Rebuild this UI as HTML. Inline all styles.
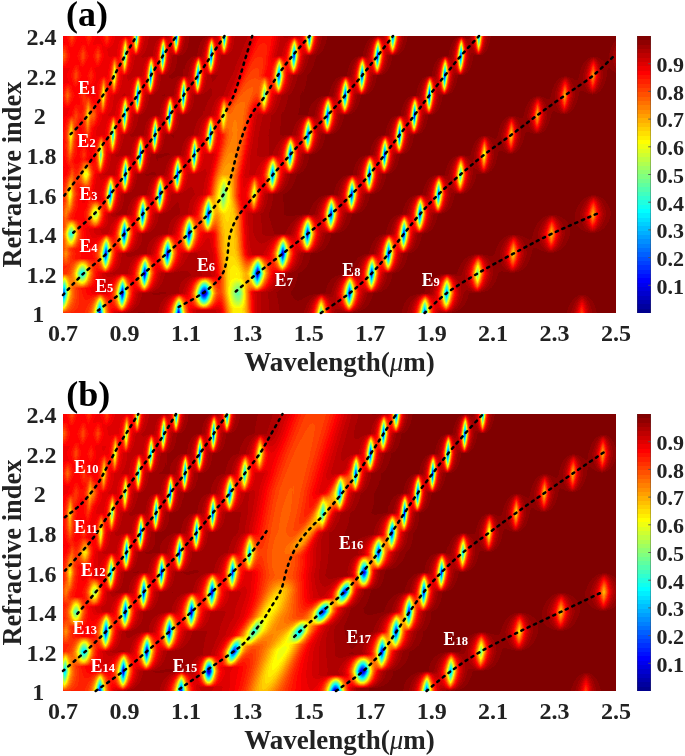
<!DOCTYPE html>
<html><head><meta charset="utf-8"><title>fig</title>
<style>
html,body{margin:0;padding:0;background:#fff;width:685px;height:756px;overflow:hidden}
body{position:relative}
canvas,.fb{position:absolute;left:63px;width:553px;height:277px}
.cb{position:absolute;left:637px;width:14px;height:277px;background:linear-gradient(to top,rgb(0,0,143) 0.000%, rgb(0,0,143) 1.562%,rgb(0,0,159) 1.562%, rgb(0,0,159) 3.125%,rgb(0,0,175) 3.125%, rgb(0,0,175) 4.688%,rgb(0,0,191) 4.688%, rgb(0,0,191) 6.250%,rgb(0,0,207) 6.250%, rgb(0,0,207) 7.812%,rgb(0,0,223) 7.812%, rgb(0,0,223) 9.375%,rgb(0,0,239) 9.375%, rgb(0,0,239) 10.938%,rgb(0,0,255) 10.938%, rgb(0,0,255) 12.500%,rgb(0,16,255) 12.500%, rgb(0,16,255) 14.062%,rgb(0,32,255) 14.062%, rgb(0,32,255) 15.625%,rgb(0,48,255) 15.625%, rgb(0,48,255) 17.188%,rgb(0,64,255) 17.188%, rgb(0,64,255) 18.750%,rgb(0,80,255) 18.750%, rgb(0,80,255) 20.312%,rgb(0,96,255) 20.312%, rgb(0,96,255) 21.875%,rgb(0,112,255) 21.875%, rgb(0,112,255) 23.438%,rgb(0,128,255) 23.438%, rgb(0,128,255) 25.000%,rgb(0,143,255) 25.000%, rgb(0,143,255) 26.562%,rgb(0,159,255) 26.562%, rgb(0,159,255) 28.125%,rgb(0,175,255) 28.125%, rgb(0,175,255) 29.688%,rgb(0,191,255) 29.688%, rgb(0,191,255) 31.250%,rgb(0,207,255) 31.250%, rgb(0,207,255) 32.812%,rgb(0,223,255) 32.812%, rgb(0,223,255) 34.375%,rgb(0,239,255) 34.375%, rgb(0,239,255) 35.938%,rgb(0,255,255) 35.938%, rgb(0,255,255) 37.500%,rgb(16,255,239) 37.500%, rgb(16,255,239) 39.062%,rgb(32,255,223) 39.062%, rgb(32,255,223) 40.625%,rgb(48,255,207) 40.625%, rgb(48,255,207) 42.188%,rgb(64,255,191) 42.188%, rgb(64,255,191) 43.750%,rgb(80,255,175) 43.750%, rgb(80,255,175) 45.312%,rgb(96,255,159) 45.312%, rgb(96,255,159) 46.875%,rgb(112,255,143) 46.875%, rgb(112,255,143) 48.438%,rgb(128,255,128) 48.438%, rgb(128,255,128) 50.000%,rgb(143,255,112) 50.000%, rgb(143,255,112) 51.562%,rgb(159,255,96) 51.562%, rgb(159,255,96) 53.125%,rgb(175,255,80) 53.125%, rgb(175,255,80) 54.688%,rgb(191,255,64) 54.688%, rgb(191,255,64) 56.250%,rgb(207,255,48) 56.250%, rgb(207,255,48) 57.812%,rgb(223,255,32) 57.812%, rgb(223,255,32) 59.375%,rgb(239,255,16) 59.375%, rgb(239,255,16) 60.938%,rgb(255,255,0) 60.938%, rgb(255,255,0) 62.500%,rgb(255,239,0) 62.500%, rgb(255,239,0) 64.062%,rgb(255,223,0) 64.062%, rgb(255,223,0) 65.625%,rgb(255,207,0) 65.625%, rgb(255,207,0) 67.188%,rgb(255,191,0) 67.188%, rgb(255,191,0) 68.750%,rgb(255,175,0) 68.750%, rgb(255,175,0) 70.312%,rgb(255,159,0) 70.312%, rgb(255,159,0) 71.875%,rgb(255,143,0) 71.875%, rgb(255,143,0) 73.438%,rgb(255,128,0) 73.438%, rgb(255,128,0) 75.000%,rgb(255,112,0) 75.000%, rgb(255,112,0) 76.562%,rgb(255,96,0) 76.562%, rgb(255,96,0) 78.125%,rgb(255,80,0) 78.125%, rgb(255,80,0) 79.688%,rgb(255,64,0) 79.688%, rgb(255,64,0) 81.250%,rgb(255,48,0) 81.250%, rgb(255,48,0) 82.812%,rgb(255,32,0) 82.812%, rgb(255,32,0) 84.375%,rgb(255,16,0) 84.375%, rgb(255,16,0) 85.938%,rgb(255,0,0) 85.938%, rgb(255,0,0) 87.500%,rgb(239,0,0) 87.500%, rgb(239,0,0) 89.062%,rgb(223,0,0) 89.062%, rgb(223,0,0) 90.625%,rgb(207,0,0) 90.625%, rgb(207,0,0) 92.188%,rgb(191,0,0) 92.188%, rgb(191,0,0) 93.750%,rgb(175,0,0) 93.750%, rgb(175,0,0) 95.312%,rgb(159,0,0) 95.312%, rgb(159,0,0) 96.875%,rgb(143,0,0) 96.875%, rgb(143,0,0) 98.438%,rgb(128,0,0) 98.438%, rgb(128,0,0) 100.000%);box-shadow:inset 1px 0 0 rgba(70,70,70,.35),inset -1px 0 0 rgba(70,70,70,.35)}
svg{position:absolute;left:0;top:0}
#ov{z-index:2}
</style></head><body>
<svg class="fb" style="top:36px" width="553" height="277" shape-rendering="crispEdges"><rect width="553" height="277" fill="#800000"/><path fill="#ff1000" d="M0 0h16v8h-16zM24 0h8v8h-8zM40 0h8v8h-8zM192 0h16v8h-16zM0 8h8v8h-8zM16 8h8v8h-8zM32 8h8v8h-8zM200 8h8v8h-8zM184 16h8v8h-8zM200 16h8v8h-8zM0 24h8v8h-8zM16 24h8v8h-8zM200 24h8v8h-8zM24 32h8v8h-8zM24 40h8v8h-8zM16 48h8v8h-8zM24 56h8v8h-8zM0 64h8v8h-8zM0 80h8v8h-8zM16 96h16v8h-16zM152 96h8v8h-8zM136 104h8v8h-8zM152 104h8v8h-8zM16 112h8v8h-8zM8 120h8v8h-8zM24 120h8v8h-8zM0 128h8v8h-8zM216 128h8v8h-8zM24 152h8v8h-8zM24 160h8v8h-8zM8 176h8v8h-8zM16 184h8v8h-8zM16 192h8v8h-8zM16 200h8v8h-8zM16 216h8v8h-8zM88 224h8v8h-8zM64 240h8v8h-8zM24 248h8v8h-8zM24 256h8v8h-8zM40 256h8v8h-8zM152 264h8v8h-8z"/><path fill="#ff0000" d="M16 0h8v8h-8zM8 8h8v8h-8zM24 8h8v8h-8zM8 16h8v8h-8zM24 16h8v8h-8zM8 24h8v8h-8zM24 24h16v8h-16zM16 32h8v8h-8zM200 32h8v8h-8zM16 40h8v8h-8zM32 40h8v8h-8zM8 48h8v8h-8zM8 56h8v8h-8zM8 64h8v8h-8zM16 104h8v8h-8zM24 112h8v8h-8zM16 152h8v8h-8zM16 160h8v8h-8zM16 168h8v8h-8zM16 176h8v8h-8zM16 208h16v8h-16zM24 216h8v8h-8z"/><path fill="#f00000" d="M32 0h8v8h-8zM208 0h8v8h-8zM40 8h8v8h-8zM184 8h8v8h-8zM40 16h16v8h-16zM40 24h8v8h-8zM0 32h8v8h-8zM32 32h16v8h-16zM0 40h8v8h-8zM24 48h8v8h-8zM168 48h8v8h-8zM0 72h8v8h-8zM32 80h8v8h-8zM184 88h8v8h-8zM24 104h8v8h-8zM232 104h8v8h-8zM120 128h8v8h-8zM176 136h8v8h-8zM192 136h8v8h-8zM176 144h8v8h-8zM176 152h8v8h-8zM176 160h8v8h-8zM24 200h8v8h-8zM232 208h8v8h-8zM88 216h8v8h-8zM200 216h8v8h-8zM32 240h8v8h-8zM368 264h8v8h-8zM48 272h8v5h-8z"/><path fill="#e00000" d="M48 0h8v8h-8zM48 8h8v8h-8zM208 8h8v8h-8zM88 16h8v8h-8zM152 16h8v8h-8zM208 16h16v8h-16zM176 24h8v8h-8zM304 32h8v8h-8zM56 40h8v8h-8zM288 48h8v8h-8zM48 56h8v8h-8zM160 56h8v8h-8zM208 56h8v8h-8zM48 64h8v8h-8zM40 72h16v8h-16zM192 72h8v8h-8zM40 80h8v8h-8zM32 88h8v8h-8zM96 88h8v8h-8zM184 96h8v8h-8zM136 120h8v8h-8zM144 128h8v8h-8zM32 136h8v8h-8zM120 136h8v8h-8zM184 136h8v8h-8zM32 144h8v8h-8zM32 152h8v8h-8zM104 152h8v8h-8zM128 168h8v8h-8zM40 176h8v8h-8zM64 176h8v8h-8zM48 184h8v8h-8zM112 184h8v8h-8zM24 192h8v8h-8zM136 200h16v8h-16zM144 208h8v8h-8zM48 224h8v8h-8zM32 248h16v8h-16zM296 248h8v8h-8zM368 256h8v8h-8zM128 272h8v5h-8zM152 272h8v5h-8z"/><path fill="#f02000" d="M56 0h8v8h-8zM152 8h8v8h-8zM64 16h8v8h-8zM136 24h8v8h-8zM496 48h8v8h-8zM64 56h8v8h-8zM64 72h8v8h-8zM416 104h8v8h-8zM40 112h8v8h-8zM144 112h8v8h-8zM176 120h8v8h-8zM104 144h8v8h-8zM144 144h8v8h-8zM296 144h8v8h-8zM88 168h8v8h-8zM184 168h8v8h-8zM272 168h8v8h-8zM360 168h8v8h-8zM176 176h8v8h-8zM176 184h8v8h-8zM248 184h8v8h-8zM48 192h8v8h-8zM112 192h8v8h-8zM480 192h8v8h-8zM488 200h8v8h-8zM128 208h8v8h-8zM48 216h8v8h-8zM224 224h8v8h-8zM448 224h8v8h-8zM88 232h8v8h-8zM56 272h8v5h-8z"/><path fill="#ff3000" d="M64 0h8v8h-8zM64 8h8v8h-8zM16 16h8v8h-8zM192 24h8v8h-8zM192 32h8v8h-8zM48 48h8v8h-8zM32 64h8v8h-8zM184 64h16v8h-16zM16 72h8v8h-8zM16 80h8v8h-8zM48 80h8v8h-8zM24 88h8v8h-8zM152 88h8v8h-8zM40 104h8v8h-8zM0 112h8v8h-8zM176 112h8v8h-8zM152 120h8v8h-8zM216 120h8v8h-8zM24 144h8v8h-8zM144 152h8v8h-8zM48 200h8v8h-8zM176 200h8v8h-8zM232 200h8v8h-8zM8 208h8v8h-8zM48 208h8v8h-8zM176 208h8v8h-8zM152 224h8v8h-8zM312 224h8v8h-8zM152 240h8v8h-8zM120 264h8v8h-8zM184 264h8v8h-8zM8 272h8v5h-8zM184 272h8v5h-8z"/><path fill="#d08030" d="M72 0h8v8h-8zM224 8h8v8h-8zM392 8h8v8h-8zM216 40h8v8h-8zM80 168h8v8h-8z"/><path fill="#c00000" d="M80 0h8v8h-8zM168 0h8v8h-8zM216 0h8v8h-8zM88 8h8v8h-8zM176 8h8v8h-8zM80 16h8v8h-8zM160 16h8v8h-8zM176 16h8v8h-8zM240 16h8v8h-8zM320 16h8v8h-8zM72 24h8v8h-8zM152 24h8v8h-8zM72 32h8v8h-8zM168 32h8v8h-8zM232 32h8v8h-8zM520 32h8v8h-8zM520 40h8v8h-8zM160 48h8v8h-8zM504 48h8v8h-8zM528 48h8v8h-8zM104 56h8v8h-8zM128 56h8v8h-8zM152 56h8v8h-8zM288 56h8v8h-8zM504 56h8v8h-8zM96 64h8v8h-8zM208 64h8v8h-8zM144 72h8v8h-8zM464 72h8v8h-8zM136 80h8v8h-8zM192 80h8v8h-8zM248 80h8v8h-8zM464 80h8v8h-8zM64 88h8v8h-8zM80 88h8v8h-8zM192 88h8v8h-8zM232 88h8v8h-8zM96 96h8v8h-8zM192 96h8v8h-8zM320 96h8v8h-8zM120 104h8v8h-8zM64 112h8v8h-8zM424 112h8v8h-8zM48 120h8v8h-8zM104 120h8v8h-8zM184 120h16v8h-16zM424 120h8v8h-8zM184 128h8v8h-8zM128 136h16v8h-16zM312 136h8v8h-8zM128 144h16v8h-16zM216 144h8v8h-8zM400 144h8v8h-8zM128 152h8v8h-8zM392 152h8v8h-8zM104 160h8v8h-8zM128 160h8v8h-8zM528 160h8v8h-8zM64 168h8v8h-8zM344 168h8v8h-8zM48 176h8v8h-8zM88 176h8v8h-8zM184 176h8v8h-8zM248 176h8v8h-8zM184 184h8v8h-8zM520 184h8v8h-8zM80 192h8v8h-8zM104 192h8v8h-8zM184 192h8v8h-8zM256 192h8v8h-8zM184 200h8v8h-8zM192 208h8v8h-8zM248 208h8v8h-8zM312 208h8v8h-8zM480 208h16v8h-16zM56 216h8v8h-8zM72 216h8v8h-8zM120 216h24v8h-24zM64 224h8v8h-8zM136 224h8v8h-8zM440 224h8v8h-8zM48 232h16v8h-16zM136 232h8v8h-8zM400 232h8v8h-8zM400 240h8v8h-8zM88 248h8v8h-8zM368 248h8v8h-8zM392 248h8v8h-8zM416 248h8v8h-8zM104 256h8v8h-8zM192 256h8v8h-8zM296 256h8v8h-8zM392 256h8v8h-8zM192 264h8v8h-8zM264 264h8v8h-8zM96 272h8v5h-8zM192 272h8v5h-8z"/><path fill="#b00000" d="M88 0h8v8h-8zM176 0h8v8h-8zM400 0h8v8h-8zM80 8h8v8h-8zM136 8h8v8h-8zM168 8h8v8h-8zM128 16h8v8h-8zM168 16h8v8h-8zM296 16h8v8h-8zM552 16h1v8h-1zM104 24h8v8h-8zM160 24h16v8h-16zM288 24h8v8h-8zM152 32h16v8h-16zM144 40h24v8h-24zM224 40h8v8h-8zM304 40h8v8h-8zM496 40h8v8h-8zM144 48h16v8h-16zM384 48h8v8h-8zM144 56h8v8h-8zM216 56h8v8h-8zM264 56h8v8h-8zM352 56h8v8h-8zM80 64h8v8h-8zM144 64h8v8h-8zM504 64h8v8h-8zM208 72h8v8h-8zM112 80h8v8h-8zM200 80h8v8h-8zM448 80h8v8h-8zM128 88h8v8h-8zM200 88h8v8h-8zM64 96h8v8h-8zM104 96h8v8h-8zM200 96h8v8h-8zM56 104h16v8h-16zM96 104h8v8h-8zM192 104h16v8h-16zM424 104h8v8h-8zM56 112h8v8h-8zM192 112h24v8h-24zM296 120h8v8h-8zM400 120h8v8h-8zM80 128h8v8h-8zM232 128h8v8h-8zM72 136h8v8h-8zM88 136h8v8h-8zM376 136h16v8h-16zM384 144h8v8h-8zM64 152h8v8h-8zM80 152h8v8h-8zM120 152h8v8h-8zM56 160h8v8h-8zM112 160h16v8h-16zM200 160h8v8h-8zM256 160h8v8h-8zM296 160h8v8h-8zM104 168h24v8h-24zM112 176h8v8h-8zM192 176h8v8h-8zM536 176h8v8h-8zM88 184h8v8h-8zM104 184h8v8h-8zM192 184h8v8h-8zM328 184h8v8h-8zM192 192h8v8h-8zM224 192h8v8h-8zM72 200h8v8h-8zM88 200h8v8h-8zM192 200h16v8h-16zM344 208h8v8h-8zM456 208h8v8h-8zM232 216h8v8h-8zM408 216h8v8h-8zM456 216h8v8h-8zM56 224h8v8h-8zM120 224h16v8h-16zM112 232h8v8h-8zM128 232h8v8h-8zM224 232h8v8h-8zM96 240h8v8h-8zM120 240h8v8h-8zM272 240h8v8h-8zM208 248h8v8h-8zM312 248h8v8h-8zM72 256h8v8h-8zM200 256h8v8h-8zM352 256h8v8h-8zM72 264h8v8h-8zM96 264h8v8h-8zM200 264h8v8h-8zM520 264h8v8h-8zM64 272h8v5h-8zM200 272h8v5h-8zM288 272h8v5h-8zM344 272h8v5h-8zM384 272h8v5h-8z"/><path fill="#e03000" d="M96 0h8v8h-8zM312 0h16v8h-16zM80 24h8v8h-8zM280 40h8v8h-8zM368 48h8v8h-8zM256 64h8v8h-8zM336 80h8v8h-8zM256 88h8v8h-8zM248 96h8v8h-8zM440 96h16v8h-16zM88 144h8v8h-8zM72 160h8v8h-8zM360 176h8v8h-8zM80 216h8v8h-8zM192 216h8v8h-8zM376 240h8v8h-8zM112 256h8v8h-8z"/><path fill="#f03000" d="M104 0h8v8h-8zM152 0h8v8h-8zM224 32h8v8h-8zM528 32h8v8h-8zM72 40h8v8h-8zM528 40h8v8h-8zM40 64h8v8h-8zM88 80h8v8h-8zM472 80h8v8h-8zM216 112h8v8h-8zM104 136h8v8h-8zM136 160h8v8h-8zM192 160h8v8h-8zM280 168h8v8h-8zM528 168h8v8h-8zM256 176h8v8h-8zM272 176h8v8h-8zM144 192h8v8h-8zM232 192h8v8h-8zM344 192h8v8h-8zM248 200h8v8h-8zM288 240h8v8h-8zM384 240h8v8h-8zM416 240h8v8h-8zM72 248h8v8h-8zM184 256h8v8h-8zM104 264h8v8h-8z"/><path fill="#b08040" d="M112 0h8v8h-8zM368 152h8v8h-8zM96 160h8v8h-8zM288 160h8v8h-8z"/><path fill="#a00000" d="M120 0h8v8h-8zM136 0h8v8h-8zM304 0h8v8h-8zM336 0h8v8h-8zM120 8h8v8h-8zM552 8h1v8h-1zM112 16h8v8h-8zM328 16h8v8h-8zM376 16h16v8h-16zM120 24h8v8h-8zM240 24h8v8h-8zM320 24h8v8h-8zM520 24h8v8h-8zM552 24h1v8h-1zM104 32h8v8h-8zM120 32h8v8h-8zM368 32h8v8h-8zM536 32h8v8h-8zM96 40h16v8h-16zM272 40h8v8h-8zM96 48h16v8h-16zM224 48h8v8h-8zM520 48h8v8h-8zM88 56h16v8h-16zM136 56h8v8h-8zM296 56h8v8h-8zM376 56h8v8h-8zM488 56h8v8h-8zM88 64h8v8h-8zM128 64h16v8h-16zM216 64h8v8h-8zM288 64h8v8h-8zM464 64h8v8h-8zM80 72h16v8h-16zM128 72h16v8h-16zM216 72h8v8h-8zM248 72h8v8h-8zM368 72h8v8h-8zM480 72h8v8h-8zM496 72h8v8h-8zM72 80h16v8h-16zM120 80h16v8h-16zM208 80h8v8h-8zM232 80h8v8h-8zM272 80h8v8h-8zM440 80h8v8h-8zM72 88h8v8h-8zM112 88h16v8h-16zM208 88h8v8h-8zM464 88h8v8h-8zM112 96h16v8h-16zM208 96h16v8h-16zM256 96h8v8h-8zM344 96h8v8h-8zM104 104h16v8h-16zM208 104h8v8h-8zM96 112h24v8h-24zM408 112h8v8h-8zM440 112h8v8h-8zM88 120h16v8h-16zM328 120h8v8h-8zM408 120h8v8h-8zM88 128h16v8h-16zM384 128h8v8h-8zM408 128h8v8h-8zM424 128h8v8h-8zM80 136h8v8h-8zM224 136h8v8h-8zM280 136h8v8h-8zM368 136h8v8h-8zM72 144h16v8h-16zM312 144h8v8h-8zM72 152h8v8h-8zM272 152h8v8h-8zM360 152h8v8h-8zM384 152h8v8h-8zM64 160h8v8h-8zM344 160h8v8h-8zM520 160h8v8h-8zM56 168h8v8h-8zM200 168h8v8h-8zM536 168h8v8h-8zM96 176h16v8h-16zM200 176h8v8h-8zM280 176h8v8h-8zM368 176h8v8h-8zM488 176h8v8h-8zM96 184h8v8h-8zM200 184h8v8h-8zM224 184h8v8h-8zM536 184h8v8h-8zM88 192h16v8h-16zM200 192h24v8h-24zM472 192h8v8h-8zM496 192h8v8h-8zM80 200h8v8h-8zM256 200h8v8h-8zM312 200h8v8h-8zM440 200h8v8h-8zM472 200h8v8h-8zM496 200h8v8h-8zM72 208h16v8h-16zM64 216h8v8h-8zM336 216h8v8h-8zM416 216h8v8h-8zM232 224h8v8h-8zM400 224h8v8h-8zM424 224h8v8h-8zM456 224h8v8h-8zM120 232h8v8h-8zM288 232h8v8h-8zM328 232h8v8h-8zM424 232h8v8h-8zM448 232h8v8h-8zM104 240h16v8h-16zM216 240h8v8h-8zM368 240h8v8h-8zM392 240h8v8h-8zM424 240h8v8h-8zM96 248h24v8h-24zM400 248h8v8h-8zM80 256h24v8h-24zM208 256h8v8h-8zM248 256h8v8h-8zM264 256h8v8h-8zM80 264h16v8h-16zM208 264h8v8h-8zM240 264h8v8h-8zM296 264h8v8h-8zM344 264h8v8h-8zM392 264h8v8h-8zM72 272h24v5h-24zM208 272h8v5h-8zM240 272h8v5h-8zM272 272h8v5h-8z"/><path fill="#900000" d="M128 0h8v8h-8zM256 0h8v8h-8zM128 8h8v8h-8zM256 8h8v8h-8zM336 8h8v8h-8zM384 8h8v8h-8zM544 8h8v8h-8zM120 16h8v8h-8zM248 16h8v8h-8zM408 16h16v8h-16zM528 16h8v8h-8zM544 16h8v8h-8zM112 24h8v8h-8zM368 24h8v8h-8zM536 24h16v8h-16zM112 32h8v8h-8zM240 32h8v8h-8zM320 32h8v8h-8zM400 32h8v8h-8zM552 32h1v8h-1zM232 40h16v8h-16zM504 40h16v8h-16zM536 40h8v8h-8zM232 48h8v8h-8zM264 48h8v8h-8zM304 48h8v8h-8zM352 48h8v8h-8zM488 48h8v8h-8zM512 48h8v8h-8zM224 56h16v8h-16zM256 56h8v8h-8zM344 56h8v8h-8zM472 56h8v8h-8zM224 64h16v8h-16zM248 64h8v8h-8zM336 64h8v8h-8zM480 64h16v8h-16zM224 72h16v8h-16zM336 72h8v8h-8zM488 72h8v8h-8zM504 72h8v8h-8zM216 80h16v8h-16zM360 80h8v8h-8zM456 80h8v8h-8zM480 80h8v8h-8zM216 88h16v8h-16zM272 88h8v8h-8zM320 88h8v8h-8zM456 88h8v8h-8zM480 88h8v8h-8zM264 96h8v8h-8zM312 96h8v8h-8zM416 96h24v8h-24zM456 96h8v8h-8zM256 104h8v8h-8zM344 104h8v8h-8zM408 104h8v8h-8zM432 104h8v8h-8zM248 112h8v8h-8zM304 112h8v8h-8zM432 112h8v8h-8zM448 112h8v8h-8zM240 120h8v8h-8zM384 120h8v8h-8zM288 128h8v8h-8zM328 128h8v8h-8zM320 136h8v8h-8zM408 136h8v8h-8zM224 144h8v8h-8zM272 144h8v8h-8zM360 144h8v8h-8zM216 152h8v8h-8zM264 152h8v8h-8zM312 152h8v8h-8zM400 152h8v8h-8zM208 160h16v8h-16zM384 160h8v8h-8zM536 160h8v8h-8zM208 168h16v8h-16zM248 168h8v8h-8zM296 168h8v8h-8zM512 168h8v8h-8zM208 176h32v8h-32zM288 176h8v8h-8zM328 176h8v8h-8zM480 176h8v8h-8zM512 176h8v8h-8zM208 184h16v8h-16zM280 184h8v8h-8zM368 184h8v8h-8zM472 184h8v8h-8zM496 184h8v8h-8zM512 184h8v8h-8zM272 192h8v8h-8zM320 192h8v8h-8zM360 192h8v8h-8zM520 192h16v8h-16zM352 200h8v8h-8zM456 200h16v8h-16zM256 208h8v8h-8zM304 208h8v8h-8zM432 208h8v8h-8zM464 208h16v8h-16zM240 216h8v8h-8zM296 216h8v8h-8zM424 216h16v8h-16zM240 224h8v8h-8zM288 224h8v8h-8zM336 224h8v8h-8zM432 224h8v8h-8zM232 232h8v8h-8zM280 232h8v8h-8zM376 232h24v8h-24zM432 232h16v8h-16zM224 240h8v8h-8zM320 240h8v8h-8zM216 248h16v8h-16zM264 248h8v8h-8zM320 248h8v8h-8zM360 248h8v8h-8zM424 248h8v8h-8zM216 256h16v8h-16zM304 256h8v8h-8zM344 256h8v8h-8zM400 256h8v8h-8zM512 256h16v8h-16zM216 264h24v8h-24zM504 264h8v8h-8zM216 272h24v5h-24zM336 272h8v5h-8zM504 272h8v5h-8zM528 272h8v5h-8z"/><path fill="#e02000" d="M144 0h8v8h-8zM224 0h8v8h-8zM304 16h8v8h-8zM96 32h8v8h-8zM144 32h8v8h-8zM384 32h8v8h-8zM120 40h8v8h-8zM288 40h8v8h-8zM272 64h8v8h-8zM72 72h8v8h-8zM248 88h8v8h-8zM448 88h8v8h-8zM80 112h8v8h-8zM392 120h8v8h-8zM104 128h8v8h-8zM296 128h8v8h-8zM400 136h8v8h-8zM64 144h8v8h-8zM112 152h8v8h-8zM48 168h8v8h-8zM120 176h8v8h-8zM344 200h8v8h-8zM480 200h8v8h-8zM416 224h8v8h-8zM40 232h8v8h-8zM296 232h8v8h-8zM312 240h8v8h-8zM248 264h8v8h-8z"/><path fill="#b08050" d="M160 0h8v8h-8zM264 72h8v8h-8zM40 152h8v8h-8z"/><path fill="#d00000" d="M184 0h8v8h-8zM216 8h8v8h-8zM72 16h8v8h-8zM104 16h8v8h-8zM136 16h8v8h-8zM528 24h8v8h-8zM64 32h8v8h-8zM64 40h8v8h-8zM168 40h8v8h-8zM368 40h8v8h-8zM56 48h8v8h-8zM80 56h8v8h-8zM272 72h8v8h-8zM472 88h8v8h-8zM56 96h8v8h-8zM80 96h8v8h-8zM184 104h8v8h-8zM184 112h8v8h-8zM144 120h8v8h-8zM232 120h8v8h-8zM40 128h16v8h-16zM136 128h8v8h-8zM192 128h8v8h-8zM216 136h8v8h-8zM120 144h8v8h-8zM136 152h8v8h-8zM200 152h8v8h-8zM296 152h8v8h-8zM272 160h8v8h-8zM360 160h8v8h-8zM192 168h8v8h-8zM520 168h8v8h-8zM40 184h8v8h-8zM480 184h8v8h-8zM32 192h16v8h-16zM448 200h8v8h-8zM88 208h8v8h-8zM136 208h8v8h-8zM184 208h8v8h-8zM200 208h8v8h-8zM144 216h8v8h-8zM112 224h8v8h-8zM144 224h8v8h-8zM296 224h8v8h-8zM64 232h8v8h-8zM144 232h8v8h-8zM40 240h8v8h-8zM208 240h8v8h-8zM120 248h8v8h-8zM272 248h8v8h-8zM272 264h8v8h-8zM512 264h8v8h-8zM144 272h8v5h-8zM264 272h8v5h-8zM520 272h8v5h-8z"/><path fill="#f01000" d="M232 0h8v8h-8zM104 8h8v8h-8zM320 8h8v8h-8zM304 24h8v8h-8zM176 32h8v8h-8zM496 64h8v8h-8zM184 80h8v8h-8zM40 88h8v8h-8zM32 96h8v8h-8zM136 96h8v8h-8zM80 104h8v8h-8zM136 112h8v8h-8zM64 120h8v8h-8zM120 120h8v8h-8zM176 128h8v8h-8zM312 128h8v8h-8zM144 136h8v8h-8zM32 160h8v8h-8zM176 168h8v8h-8zM128 176h8v8h-8zM256 184h8v8h-8zM224 200h8v8h-8zM112 216h8v8h-8zM312 216h8v8h-8zM32 232h8v8h-8zM208 232h8v8h-8zM48 240h8v8h-8zM296 240h8v8h-8zM120 256h8v8h-8z"/><path fill="#b0a050" d="M240 0h8v8h-8zM328 0h8v8h-8zM376 40h8v8h-8zM104 80h8v8h-8z"/><path fill="#e04000" d="M248 0h8v8h-8zM232 24h8v8h-8zM136 40h8v8h-8zM112 48h8v8h-8zM272 56h8v8h-8zM352 64h8v8h-8zM240 80h8v8h-8zM264 88h8v8h-8zM344 88h8v8h-8zM312 112h8v8h-8zM64 136h8v8h-8zM280 144h8v8h-8zM376 144h8v8h-8zM96 168h8v8h-8zM288 168h8v8h-8z"/><path fill="#c02000" d="M392 0h8v8h-8zM416 8h8v8h-8zM280 72h8v8h-8z"/><path fill="#d05020" d="M408 0h8v8h-8zM88 40h8v8h-8zM120 64h8v8h-8z"/><path fill="#d05010" d="M416 0h8v8h-8zM128 24h8v8h-8zM352 80h8v8h-8z"/><path fill="#f07010" d="M56 8h8v8h-8zM56 64h8v8h-8zM104 64h8v8h-8zM48 104h8v8h-8zM104 200h8v8h-8zM144 264h8v8h-8zM376 264h8v8h-8z"/><path fill="#f04000" d="M72 8h8v8h-8zM88 24h8v8h-8zM216 48h8v8h-8zM496 56h8v8h-8zM152 72h8v8h-8zM472 72h8v8h-8zM144 80h8v8h-8zM56 120h8v8h-8zM312 120h8v8h-8zM64 128h8v8h-8zM296 136h8v8h-8zM80 160h8v8h-8zM368 168h8v8h-8zM488 192h8v8h-8zM64 200h8v8h-8zM96 200h8v8h-8zM312 232h8v8h-8zM64 256h8v8h-8zM288 264h8v8h-8zM352 264h8v8h-8z"/><path fill="#d0a030" d="M96 8h8v8h-8zM144 8h8v8h-8zM56 16h8v8h-8zM144 24h8v8h-8zM224 24h8v8h-8zM312 24h8v8h-8zM72 48h8v8h-8zM88 88h8v8h-8zM48 96h8v8h-8zM304 144h8v8h-8zM136 176h8v8h-8zM72 232h8v8h-8zM376 248h8v8h-8z"/><path fill="#e05010" d="M112 8h8v8h-8zM160 8h8v8h-8zM328 104h8v8h-8zM368 144h8v8h-8zM80 184h8v8h-8z"/><path fill="#ff2000" d="M192 8h8v8h-8zM0 16h8v8h-8zM32 16h8v8h-8zM192 16h8v8h-8zM184 24h8v8h-8zM8 32h8v8h-8zM56 32h8v8h-8zM8 40h8v8h-8zM40 40h8v8h-8zM176 40h8v8h-8zM0 48h8v8h-8zM32 48h8v8h-8zM16 56h8v8h-8zM168 56h8v8h-8zM16 64h8v8h-8zM64 64h8v8h-8zM8 72h8v8h-8zM32 72h8v8h-8zM184 72h8v8h-8zM16 88h8v8h-8zM40 96h8v8h-8zM8 112h8v8h-8zM152 112h8v8h-8zM0 120h8v8h-8zM16 120h8v8h-8zM8 128h8v8h-8zM0 136h8v8h-8zM192 144h8v8h-8zM8 168h8v8h-8zM344 184h8v8h-8zM136 192h8v8h-8zM176 192h8v8h-8zM32 200h8v8h-8zM112 200h8v8h-8zM328 200h8v8h-8zM112 208h8v8h-8zM8 216h8v8h-8zM152 232h8v8h-8zM16 256h8v8h-8zM16 264h8v8h-8zM16 272h8v5h-8z"/><path fill="#f05010" d="M232 8h8v8h-8zM128 48h8v8h-8z"/><path fill="#f06010" d="M240 8h8v8h-8zM216 24h8v8h-8zM296 48h8v8h-8zM376 48h8v8h-8zM40 144h8v8h-8zM64 192h8v8h-8zM280 240h8v8h-8z"/><path fill="#d01000" d="M248 8h8v8h-8zM304 8h8v8h-8zM400 8h8v8h-8zM384 24h8v8h-8zM288 32h8v8h-8zM136 48h8v8h-8zM368 64h8v8h-8zM96 72h8v8h-8zM440 88h8v8h-8zM128 96h8v8h-8zM216 104h8v8h-8zM248 104h8v8h-8zM312 104h8v8h-8zM440 104h16v8h-16zM88 112h8v8h-8zM328 112h8v8h-8zM80 120h8v8h-8zM400 128h8v8h-8zM96 136h8v8h-8zM208 152h8v8h-8zM376 168h8v8h-8zM272 184h8v8h-8zM360 184h8v8h-8zM328 192h8v8h-8zM352 192h8v8h-8zM64 208h8v8h-8zM440 208h8v8h-8zM96 232h16v8h-16zM320 232h8v8h-8zM136 272h8v5h-8zM280 272h8v5h-8zM376 272h8v5h-8z"/><path fill="#d0b030" d="M312 8h8v8h-8zM240 104h8v8h-8zM360 264h8v8h-8z"/><path fill="#e06000" d="M328 8h8v8h-8z"/><path fill="#d03000" d="M408 8h8v8h-8z"/><path fill="#a0b060" d="M96 16h8v8h-8zM144 16h8v8h-8zM88 96h8v8h-8z"/><path fill="#a09060" d="M224 16h8v8h-8zM392 16h8v8h-8zM376 32h8v8h-8zM96 152h8v8h-8zM288 152h8v8h-8z"/><path fill="#e07020" d="M232 16h8v8h-8zM280 160h8v8h-8z"/><path fill="#90b070" d="M312 16h8v8h-8zM112 136h8v8h-8zM104 216h8v8h-8z"/><path fill="#d02000" d="M400 16h8v8h-8zM312 32h8v8h-8zM392 32h8v8h-8zM360 40h8v8h-8zM384 40h8v8h-8zM88 48h8v8h-8zM272 48h8v8h-8zM360 72h8v8h-8zM352 88h8v8h-8zM240 112h8v8h-8zM56 176h8v8h-8zM304 216h8v8h-8zM216 232h8v8h-8zM360 256h8v8h-8z"/><path fill="#ff5000" d="M48 24h8v8h-8zM208 24h8v8h-8zM184 40h16v8h-16zM184 48h8v8h-8zM40 56h8v8h-8zM184 56h8v8h-8zM160 64h16v8h-16zM8 88h8v8h-8zM56 88h8v8h-8zM160 96h8v8h-8zM176 96h8v8h-8zM0 104h8v8h-8zM208 120h8v8h-8zM24 128h8v8h-8zM152 128h8v8h-8zM0 144h24v8h-24zM200 144h8v8h-8zM8 152h8v8h-8zM192 152h8v8h-8zM0 176h8v8h-8zM528 176h8v8h-8zM152 208h8v8h-8zM208 208h8v8h-8zM224 208h8v8h-8zM328 208h8v8h-8zM448 208h8v8h-8zM176 216h8v8h-8zM224 216h8v8h-8zM32 224h8v8h-8zM200 224h16v8h-16zM24 240h8v8h-8zM200 240h8v8h-8zM8 256h8v8h-8zM32 256h8v8h-8zM128 264h8v8h-8zM120 272h8v5h-8z"/><path fill="#f08010" d="M56 24h8v8h-8zM296 24h8v8h-8zM184 152h8v8h-8zM136 184h8v8h-8zM128 200h8v8h-8zM120 208h8v8h-8zM128 248h8v8h-8zM192 248h8v8h-8zM48 256h8v8h-8z"/><path fill="#e01000" d="M64 24h8v8h-8zM64 48h8v8h-8zM56 56h8v8h-8zM152 64h8v8h-8zM472 64h8v8h-8zM112 72h8v8h-8zM200 72h8v8h-8zM64 80h8v8h-8zM96 80h8v8h-8zM136 88h8v8h-8zM232 96h8v8h-8zM48 112h8v8h-8zM120 112h8v8h-8zM232 112h8v8h-8zM40 120h8v8h-8zM200 120h8v8h-8zM416 128h8v8h-8zM40 136h16v8h-16zM56 152h8v8h-8zM256 168h8v8h-8zM344 176h8v8h-8zM520 176h8v8h-8zM232 184h8v8h-8zM488 184h8v8h-8zM528 184h8v8h-8zM72 192h8v8h-8zM208 200h8v8h-8zM184 216h8v8h-8zM440 216h8v8h-8zM328 224h8v8h-8zM88 240h8v8h-8zM128 240h8v8h-8zM200 248h8v8h-8zM408 248h8v8h-8zM272 256h8v8h-8zM64 264h8v8h-8zM368 272h8v5h-8zM512 272h8v5h-8z"/><path fill="#d09020" d="M96 24h8v8h-8zM392 24h8v8h-8zM72 64h8v8h-8zM384 248h8v8h-8z"/><path fill="#e06010" d="M376 24h8v8h-8zM48 160h8v8h-8zM88 160h8v8h-8zM376 160h8v8h-8z"/><path fill="#c01000" d="M400 24h8v8h-8zM112 40h8v8h-8zM120 72h8v8h-8zM328 80h8v8h-8zM72 96h8v8h-8zM224 96h8v8h-8zM288 136h8v8h-8zM304 152h8v8h-8zM240 176h8v8h-8zM336 176h8v8h-8zM264 192h8v8h-8zM256 256h8v8h-8z"/><path fill="#f09000" d="M48 32h8v8h-8z"/><path fill="#c06030" d="M80 32h8v8h-8zM328 96h8v8h-8z"/><path fill="#d06020" d="M88 32h8v8h-8zM112 56h8v8h-8zM256 72h8v8h-8zM352 72h8v8h-8zM256 80h8v8h-8zM336 104h8v8h-8z"/><path fill="#b07040" d="M128 32h8v8h-8zM128 40h8v8h-8z"/><path fill="#e04010" d="M136 32h8v8h-8zM112 64h8v8h-8z"/><path fill="#ff4000" d="M184 32h8v8h-8zM200 40h8v8h-8zM40 48h8v8h-8zM176 48h8v8h-8zM0 56h8v8h-8zM32 56h8v8h-8zM24 64h8v8h-8zM8 80h8v8h-8zM152 80h8v8h-8zM0 88h8v8h-8zM8 104h8v8h-8zM176 104h8v8h-8zM32 128h8v8h-8zM8 136h8v8h-8zM184 144h8v8h-8zM8 160h8v8h-8zM24 184h16v8h-16zM64 184h8v8h-8zM152 216h8v8h-8zM0 224h8v8h-8zM24 224h8v8h-8zM0 232h8v8h-8zM16 248h8v8h-8zM64 248h8v8h-8zM152 248h8v8h-8zM152 256h8v8h-8zM8 264h8v8h-8zM24 264h8v8h-8zM48 264h8v8h-8z"/><path fill="#d09030" d="M208 32h8v8h-8zM208 40h8v8h-8zM280 64h8v8h-8zM384 256h8v8h-8z"/><path fill="#c09040" d="M216 32h8v8h-8zM56 128h8v8h-8zM40 160h8v8h-8z"/><path fill="#a0c060" d="M296 32h8v8h-8zM296 40h8v8h-8zM128 112h8v8h-8zM104 208h8v8h-8z"/><path fill="#ff8000" d="M48 40h8v8h-8zM160 88h16v8h-16zM168 96h8v8h-8zM168 104h8v8h-8zM168 112h8v8h-8zM168 120h8v8h-8zM168 128h8v8h-8zM152 136h8v8h-8zM0 160h8v8h-8zM168 160h8v8h-8zM0 184h16v8h-16zM24 232h8v8h-8zM200 232h8v8h-8zM256 264h8v8h-8z"/><path fill="#d06030" d="M80 40h8v8h-8zM120 48h8v8h-8z"/><path fill="#f04010" d="M80 48h8v8h-8z"/><path fill="#ff7000" d="M192 48h8v8h-8zM192 56h8v8h-8zM176 64h8v8h-8zM200 64h8v8h-8zM24 72h8v8h-8zM168 72h16v8h-16zM168 80h8v8h-8zM160 112h8v8h-8zM416 112h8v8h-8zM16 128h8v8h-8zM168 136h8v8h-8zM168 144h8v8h-8zM168 152h8v8h-8zM184 160h8v8h-8zM0 168h8v8h-8zM24 168h8v8h-8zM128 184h8v8h-8zM152 192h8v8h-8zM0 208h8v8h-8zM208 216h8v8h-8zM184 248h8v8h-8zM24 272h8v5h-8zM160 272h8v5h-8z"/><path fill="#f09010" d="M200 48h8v8h-8zM48 88h8v8h-8zM128 104h8v8h-8zM32 120h8v8h-8zM392 128h8v8h-8zM40 200h8v8h-8zM216 200h8v8h-8zM184 224h8v8h-8z"/><path fill="#f06000" d="M208 48h8v8h-8zM128 128h8v8h-8zM200 128h8v8h-8zM264 160h8v8h-8zM320 200h8v8h-8zM336 208h8v8h-8zM80 248h8v8h-8zM304 248h8v8h-8z"/><path fill="#c0b040" d="M280 48h8v8h-8z"/><path fill="#c08030" d="M360 48h8v8h-8zM368 160h8v8h-8zM72 168h8v8h-8z"/><path fill="#a0a060" d="M72 56h8v8h-8zM72 112h8v8h-8z"/><path fill="#b06040" d="M120 56h8v8h-8zM344 72h8v8h-8z"/><path fill="#ff6000" d="M176 56h8v8h-8zM24 80h8v8h-8zM176 80h8v8h-8zM176 88h8v8h-8zM0 96h16v8h-16zM32 104h8v8h-8zM160 104h8v8h-8zM416 120h8v8h-8zM24 136h8v8h-8zM40 168h8v8h-8zM152 200h8v8h-8zM32 208h8v8h-8zM0 216h8v8h-8zM448 216h8v8h-8zM8 224h8v8h-8zM8 248h8v8h-8zM48 248h8v8h-8zM40 264h8v8h-8zM0 272h8v5h-8zM104 272h8v5h-8z"/><path fill="#d0a020" d="M200 56h8v8h-8z"/><path fill="#80a070" d="M280 56h8v8h-8z"/><path fill="#908060" d="M360 56h8v8h-8z"/><path fill="#d04000" d="M368 56h8v8h-8z"/><path fill="#e07010" d="M264 64h8v8h-8z"/><path fill="#d04010" d="M344 64h8v8h-8zM328 88h8v8h-8z"/><path fill="#d08020" d="M360 64h8v8h-8z"/><path fill="#b0a040" d="M56 72h8v8h-8z"/><path fill="#a0a050" d="M104 72h8v8h-8z"/><path fill="#f0a010" d="M160 72h8v8h-8zM24 176h16v8h-16zM56 240h8v8h-8z"/><path fill="#c0a040" d="M56 80h8v8h-8z"/><path fill="#f0a000" d="M160 80h8v8h-8z"/><path fill="#c08040" d="M264 80h8v8h-8zM80 176h8v8h-8z"/><path fill="#c07040" d="M344 80h8v8h-8z"/><path fill="#f05000" d="M104 88h8v8h-8zM112 120h8v8h-8zM304 120h8v8h-8zM72 128h8v8h-8zM48 144h8v8h-8zM352 160h8v8h-8zM248 192h8v8h-8zM328 216h8v8h-8zM72 224h8v8h-8zM408 224h8v8h-8zM416 232h8v8h-8zM144 240h8v8h-8zM384 264h8v8h-8zM248 272h8v5h-8z"/><path fill="#c0c040" d="M144 88h8v8h-8zM240 88h8v8h-8zM392 136h8v8h-8zM56 184h8v8h-8zM120 184h8v8h-8z"/><path fill="#c07030" d="M336 88h8v8h-8z"/><path fill="#90c060" d="M144 96h8v8h-8z"/><path fill="#80d080" d="M240 96h8v8h-8zM224 112h8v8h-8zM120 200h8v8h-8z"/><path fill="#b07050" d="M336 96h8v8h-8z"/><path fill="#e08010" d="M72 104h8v8h-8zM320 104h8v8h-8zM136 168h8v8h-8z"/><path fill="#e09020" d="M88 104h8v8h-8zM56 144h8v8h-8zM96 224h16v8h-16zM72 240h8v8h-8zM288 256h8v8h-8z"/><path fill="#e0b020" d="M144 104h8v8h-8zM352 184h8v8h-8zM320 224h8v8h-8z"/><path fill="#e0a020" d="M224 104h8v8h-8zM32 112h8v8h-8zM112 144h8v8h-8zM208 144h8v8h-8zM128 192h8v8h-8zM408 232h8v8h-8zM128 256h8v8h-8zM280 264h8v8h-8z"/><path fill="#909070" d="M320 112h8v8h-8z"/><path fill="#b01000" d="M336 112h8v8h-8z"/><path fill="#b0b050" d="M72 120h8v8h-8zM96 216h8v8h-8zM376 256h8v8h-8z"/><path fill="#b0c050" d="M128 120h8v8h-8zM112 128h8v8h-8zM208 128h8v8h-8zM304 128h8v8h-8z"/><path fill="#ff9000" d="M160 120h8v8h-8zM0 152h8v8h-8zM32 168h8v8h-8zM152 184h8v8h-8zM176 224h8v8h-8zM160 264h8v8h-8z"/><path fill="#a0d060" d="M224 120h8v8h-8zM352 168h8v8h-8zM336 200h8v8h-8zM144 256h8v8h-8z"/><path fill="#a09050" d="M320 120h8v8h-8z"/><path fill="#ffa000" d="M160 128h8v8h-8zM168 168h8v8h-8z"/><path fill="#f07000" d="M224 128h8v8h-8zM392 144h8v8h-8zM240 208h8v8h-8z"/><path fill="#e05000" d="M320 128h8v8h-8z"/><path fill="#ffb000" d="M16 136h8v8h-8zM160 136h8v8h-8zM152 176h8v8h-8zM168 176h8v8h-8zM168 184h8v8h-8zM168 192h8v8h-8zM8 240h8v8h-8zM160 256h8v8h-8z"/><path fill="#90a070" d="M56 136h8v8h-8z"/><path fill="#e08020" d="M200 136h8v8h-8zM96 144h8v8h-8zM288 144h8v8h-8zM72 184h8v8h-8zM288 248h8v8h-8zM352 272h8v5h-8z"/><path fill="#80b080" d="M208 136h8v8h-8zM304 136h8v8h-8z"/><path fill="#ffc000" d="M152 144h8v8h-8zM168 200h8v8h-8zM160 208h16v8h-16zM160 216h8v8h-8zM160 224h8v8h-8zM160 232h8v8h-8zM176 232h8v8h-8zM160 240h8v8h-8zM160 248h8v8h-8z"/><path fill="#f0f010" d="M160 144h8v8h-8zM160 168h8v8h-8z"/><path fill="#d07020" d="M48 152h8v8h-8z"/><path fill="#e06020" d="M88 152h8v8h-8z"/><path fill="#e0e020" d="M152 152h8v8h-8z"/><path fill="#c0f040" d="M160 152h8v8h-8zM16 240h8v8h-8z"/><path fill="#d07030" d="M280 152h8v8h-8zM376 152h8v8h-8z"/><path fill="#f0c010" d="M144 160h8v8h-8zM16 224h8v8h-8zM0 240h8v8h-8z"/><path fill="#e0f020" d="M152 160h8v8h-8zM176 248h8v8h-8z"/><path fill="#d0ff30" d="M160 160h8v8h-8z"/><path fill="#90e070" d="M144 168h8v8h-8zM264 168h8v8h-8zM0 248h8v8h-8z"/><path fill="#f0e000" d="M152 168h8v8h-8z"/><path fill="#b09050" d="M72 176h8v8h-8z"/><path fill="#80c080" d="M144 176h8v8h-8zM360 272h8v5h-8z"/><path fill="#ffe000" d="M160 176h8v8h-8zM168 224h8v8h-8z"/><path fill="#60d0a0" d="M264 176h8v8h-8zM304 232h8v8h-8z"/><path fill="#70d080" d="M352 176h8v8h-8z"/><path fill="#d0c030" d="M144 184h8v8h-8zM264 184h8v8h-8zM0 192h8v8h-8zM40 224h8v8h-8zM304 224h8v8h-8zM256 272h8v5h-8z"/><path fill="#ffd000" d="M160 184h8v8h-8zM160 192h8v8h-8zM160 200h8v8h-8zM168 216h8v8h-8zM176 240h8v8h-8zM176 272h8v5h-8z"/><path fill="#d0d030" d="M240 184h8v8h-8zM56 264h8v8h-8z"/><path fill="#d0b020" d="M336 184h8v8h-8z"/><path fill="#c0d040" d="M8 192h8v8h-8zM80 224h8v8h-8z"/><path fill="#60c0a0" d="M56 192h8v8h-8zM40 216h8v8h-8z"/><path fill="#60b0a0" d="M120 192h8v8h-8zM80 232h8v8h-8z"/><path fill="#40c0b0" d="M240 192h8v8h-8z"/><path fill="#70c090" d="M336 192h8v8h-8zM320 216h8v8h-8z"/><path fill="#f0b010" d="M0 200h16v8h-16zM8 232h8v8h-8z"/><path fill="#80e080" d="M56 200h8v8h-8zM240 200h8v8h-8zM40 208h8v8h-8z"/><path fill="#f08000" d="M56 208h8v8h-8zM32 216h8v8h-8zM408 240h8v8h-8zM40 272h8v5h-8z"/><path fill="#c0a030" d="M96 208h8v8h-8z"/><path fill="#60e0a0" d="M216 208h8v8h-8zM192 240h8v8h-8zM56 248h8v8h-8z"/><path fill="#90c070" d="M320 208h8v8h-8zM80 240h8v8h-8zM280 248h8v8h-8z"/><path fill="#30c0d0" d="M216 216h8v8h-8z"/><path fill="#a0f060" d="M192 224h8v8h-8z"/><path fill="#c0e040" d="M216 224h8v8h-8zM184 232h8v8h-8z"/><path fill="#60ffa0" d="M16 232h8v8h-8z"/><path fill="#fff000" d="M168 232h8v8h-8zM168 272h8v5h-8z"/><path fill="#2090e0" d="M192 232h8v8h-8z"/><path fill="#e09010" d="M136 240h8v8h-8z"/><path fill="#f0ff10" d="M168 240h8v8h-8z"/><path fill="#e0d020" d="M184 240h8v8h-8z"/><path fill="#a0e060" d="M304 240h8v8h-8z"/><path fill="#20b0e0" d="M136 248h8v8h-8z"/><path fill="#b0d040" d="M144 248h8v8h-8z"/><path fill="#b0ff50" d="M168 248h8v8h-8z"/><path fill="#90d070" d="M0 256h8v8h-8z"/><path fill="#40c0c0" d="M56 256h8v8h-8zM112 272h8v5h-8z"/><path fill="#0080f0" d="M136 256h8v8h-8z"/><path fill="#a0ff60" d="M168 256h8v8h-8z"/><path fill="#d0f030" d="M176 256h8v8h-8z"/><path fill="#70b080" d="M280 256h8v8h-8z"/><path fill="#e0c020" d="M0 264h8v8h-8z"/><path fill="#b0f050" d="M32 264h8v8h-8zM112 264h8v8h-8z"/><path fill="#b0e050" d="M136 264h8v8h-8z"/><path fill="#e0ff20" d="M168 264h8v8h-8z"/><path fill="#f0e010" d="M176 264h8v8h-8z"/><path fill="#40d0c0" d="M32 272h8v5h-8z"/></svg>
<svg class="fb" style="top:414px" width="553" height="277" shape-rendering="crispEdges"><rect width="553" height="277" fill="#800000"/><path fill="#ff1000" d="M0 0h16v8h-16zM24 0h8v8h-8zM40 0h8v8h-8zM64 0h8v8h-8zM0 8h8v8h-8zM16 8h8v8h-8zM32 8h8v8h-8zM224 8h8v8h-8zM264 8h8v8h-8zM0 24h8v8h-8zM16 24h8v8h-8zM24 32h8v8h-8zM216 32h8v8h-8zM256 32h8v8h-8zM24 40h8v8h-8zM200 40h8v8h-8zM256 40h8v8h-8zM16 48h8v8h-8zM208 48h8v8h-8zM24 56h8v8h-8zM208 56h8v8h-8zM0 64h8v8h-8zM16 64h8v8h-8zM248 64h8v8h-8zM16 72h8v8h-8zM200 72h8v8h-8zM16 80h8v8h-8zM200 80h8v8h-8zM248 80h8v8h-8zM16 88h8v8h-8zM24 96h8v8h-8zM16 112h8v8h-8zM192 112h8v8h-8zM8 120h8v8h-8zM0 128h8v8h-8zM240 136h8v8h-8zM24 144h8v8h-8zM24 152h8v8h-8zM192 152h8v8h-8zM192 160h8v8h-8zM192 168h8v8h-8zM8 176h16v8h-16zM240 184h8v8h-8zM184 192h8v8h-8zM112 200h8v8h-8zM16 208h8v8h-8zM16 216h8v8h-8zM32 232h8v8h-8zM152 240h8v8h-8zM24 248h8v8h-8zM176 248h8v8h-8zM232 248h8v8h-8zM16 256h16v8h-16zM176 256h8v8h-8zM176 264h8v8h-8z"/><path fill="#ff0000" d="M16 0h8v8h-8zM8 8h8v8h-8zM24 8h8v8h-8zM8 16h8v8h-8zM24 16h8v8h-8zM264 16h8v8h-8zM8 24h8v8h-8zM24 24h16v8h-16zM16 32h8v8h-8zM16 40h8v8h-8zM8 48h8v8h-8zM8 56h8v8h-8zM8 64h8v8h-8zM248 72h8v8h-8zM16 96h8v8h-8zM16 104h8v8h-8zM24 120h8v8h-8zM16 152h8v8h-8zM16 160h8v8h-8zM16 168h8v8h-8zM24 208h8v8h-8zM24 216h8v8h-8zM232 256h8v8h-8zM232 264h8v8h-8zM232 272h8v5h-8z"/><path fill="#f00000" d="M32 0h8v8h-8zM224 0h8v8h-8zM272 0h8v8h-8zM40 8h8v8h-8zM40 16h16v8h-16zM216 16h8v8h-8zM40 24h8v8h-8zM216 24h8v8h-8zM264 24h8v8h-8zM0 32h8v8h-8zM32 32h16v8h-16zM208 32h8v8h-8zM0 40h8v8h-8zM32 40h8v8h-8zM208 40h8v8h-8zM24 48h8v8h-8zM200 48h8v8h-8zM256 48h8v8h-8zM256 56h8v8h-8zM200 64h8v8h-8zM0 72h8v8h-8zM40 80h8v8h-8zM152 80h8v8h-8zM32 96h8v8h-8zM192 96h8v8h-8zM24 104h8v8h-8zM192 104h8v8h-8zM24 112h8v8h-8zM104 144h8v8h-8zM240 144h8v8h-8zM240 152h8v8h-8zM176 160h8v8h-8zM240 160h8v8h-8zM184 168h8v8h-8zM240 168h8v8h-8zM184 176h8v8h-8zM240 176h8v8h-8zM184 184h8v8h-8zM24 192h8v8h-8zM24 200h8v8h-8zM176 200h8v8h-8zM240 232h8v8h-8zM32 240h8v8h-8zM240 240h8v8h-8zM168 256h8v8h-8zM168 264h8v8h-8zM240 264h8v8h-8zM48 272h8v5h-8zM168 272h8v5h-8zM240 272h16v5h-16z"/><path fill="#e00000" d="M48 0h8v8h-8zM152 0h8v8h-8zM48 8h8v8h-8zM216 8h8v8h-8zM272 8h8v8h-8zM200 24h8v8h-8zM536 24h8v8h-8zM264 32h8v8h-8zM56 40h8v8h-8zM264 40h8v8h-8zM48 56h8v8h-8zM64 56h8v8h-8zM168 56h8v8h-8zM192 56h16v8h-16zM256 64h8v8h-8zM256 72h8v8h-8zM192 80h8v8h-8zM32 88h8v8h-8zM192 88h8v8h-8zM120 120h8v8h-8zM176 120h8v8h-8zM32 136h8v8h-8zM32 144h8v8h-8zM32 152h8v8h-8zM104 152h8v8h-8zM184 160h8v8h-8zM176 168h8v8h-8zM64 176h8v8h-8zM112 192h8v8h-8zM176 192h8v8h-8zM136 200h8v8h-8zM168 208h8v8h-8zM88 216h8v8h-8zM48 224h8v8h-8zM112 224h8v8h-8zM248 224h8v8h-8zM96 232h8v8h-8zM152 232h8v8h-8zM32 248h16v8h-16zM240 248h8v8h-8zM280 248h8v8h-8zM160 256h8v8h-8zM240 256h8v8h-8zM128 264h8v8h-8zM160 264h8v8h-8zM248 264h8v8h-8zM128 272h8v5h-8zM160 272h8v5h-8z"/><path fill="#f01000" d="M56 0h8v8h-8zM104 8h8v8h-8zM56 32h8v8h-8zM200 32h8v8h-8zM184 40h8v8h-8zM64 64h8v8h-8zM264 64h8v8h-8zM40 72h8v8h-8zM32 80h8v8h-8zM248 120h8v8h-8zM120 128h8v8h-8zM32 160h8v8h-8zM88 168h8v8h-8zM368 168h8v8h-8zM264 176h8v8h-8zM536 184h8v8h-8zM48 192h8v8h-8zM136 192h8v8h-8zM272 192h8v8h-8zM168 216h8v8h-8zM248 216h8v8h-8zM304 232h8v8h-8zM72 248h8v8h-8zM40 256h8v8h-8zM280 256h8v8h-8zM152 264h8v8h-8zM256 264h8v8h-8zM368 264h8v8h-8zM520 272h8v5h-8z"/><path fill="#e09020" d="M72 0h8v8h-8zM96 8h8v8h-8zM88 104h8v8h-8zM304 152h8v8h-8zM96 216h8v8h-8zM320 240h8v8h-8z"/><path fill="#c00000" d="M80 0h8v8h-8zM168 0h8v8h-8zM280 0h8v8h-8zM88 8h8v8h-8zM280 8h8v8h-8zM336 8h8v8h-8zM80 16h8v8h-8zM136 16h8v8h-8zM208 16h8v8h-8zM304 16h8v8h-8zM328 16h8v8h-8zM72 24h8v8h-8zM72 32h8v8h-8zM272 32h8v8h-8zM64 40h8v8h-8zM272 40h16v8h-16zM168 48h8v8h-8zM272 48h8v8h-8zM512 48h8v8h-8zM104 56h8v8h-8zM152 72h8v8h-8zM176 80h16v8h-16zM448 80h8v8h-8zM64 88h8v8h-8zM184 88h8v8h-8zM480 88h8v8h-8zM56 96h8v8h-8zM80 96h8v8h-8zM184 96h8v8h-8zM272 96h8v8h-8zM456 96h8v8h-8zM96 104h8v8h-8zM64 112h8v8h-8zM120 112h8v8h-8zM48 120h8v8h-8zM304 120h8v8h-8zM336 120h8v8h-8zM48 128h8v8h-8zM80 128h8v8h-8zM136 128h8v8h-8zM168 128h8v8h-8zM160 136h8v8h-8zM384 144h8v8h-8zM152 152h8v8h-8zM384 152h8v8h-8zM104 160h8v8h-8zM136 160h8v8h-8zM248 160h8v8h-8zM272 160h8v8h-8zM256 168h8v8h-8zM168 176h8v8h-8zM256 176h8v8h-8zM368 176h8v8h-8zM528 176h8v8h-8zM40 184h8v8h-8zM112 184h8v8h-8zM168 184h8v8h-8zM488 184h8v8h-8zM160 192h16v8h-16zM328 192h8v8h-8zM72 200h8v8h-8zM160 200h8v8h-8zM272 200h8v8h-8zM448 200h8v8h-8zM88 208h8v8h-8zM136 208h8v8h-8zM160 208h8v8h-8zM264 208h8v8h-8zM496 208h8v8h-8zM56 216h8v8h-8zM120 216h8v8h-8zM152 216h8v8h-8zM344 216h8v8h-8zM152 224h8v8h-8zM256 224h8v8h-8zM48 232h24v8h-24zM256 232h8v8h-8zM256 240h8v8h-8zM328 240h8v8h-8zM376 240h8v8h-8zM392 240h8v8h-8zM424 240h8v8h-8zM128 248h8v8h-8zM256 248h8v8h-8zM408 248h8v8h-8zM72 256h8v8h-8zM256 256h16v8h-16zM368 256h8v8h-8zM392 264h8v8h-8zM64 272h8v5h-8zM136 272h8v5h-8zM288 272h8v5h-8zM376 272h8v5h-8z"/><path fill="#b00000" d="M88 0h8v8h-8zM208 0h8v8h-8zM288 0h8v8h-8zM408 0h8v8h-8zM80 8h8v8h-8zM208 8h8v8h-8zM288 8h8v8h-8zM408 8h8v8h-8zM160 16h8v8h-8zM192 16h16v8h-16zM280 16h8v8h-8zM104 24h8v8h-8zM184 24h8v8h-8zM280 24h16v8h-16zM152 32h8v8h-8zM280 32h16v8h-16zM392 32h8v8h-8zM528 32h8v8h-8zM544 32h8v8h-8zM112 40h8v8h-8zM504 40h8v8h-8zM528 40h8v8h-8zM312 48h8v8h-8zM128 56h8v8h-8zM160 56h8v8h-8zM304 56h8v8h-8zM352 56h8v8h-8zM80 64h8v8h-8zM96 64h8v8h-8zM152 64h8v8h-8zM344 64h8v8h-8zM472 64h8v8h-8zM512 64h8v8h-8zM296 72h8v8h-8zM112 80h8v8h-8zM288 80h8v8h-8zM80 88h8v8h-8zM136 88h8v8h-8zM176 88h8v8h-8zM456 88h8v8h-8zM472 88h8v8h-8zM64 96h8v8h-8zM160 96h8v8h-8zM176 96h8v8h-8zM56 104h16v8h-16zM120 104h8v8h-8zM176 104h8v8h-8zM416 104h8v8h-8zM56 112h8v8h-8zM152 112h8v8h-8zM176 112h8v8h-8zM264 112h8v8h-8zM312 112h8v8h-8zM104 120h8v8h-8zM168 120h8v8h-8zM256 120h8v8h-8zM256 128h8v8h-8zM296 128h8v8h-8zM336 128h8v8h-8zM416 128h8v8h-8zM72 136h8v8h-8zM128 136h8v8h-8zM256 136h8v8h-8zM328 136h8v8h-8zM152 144h8v8h-8zM256 144h8v8h-8zM64 152h8v8h-8zM80 152h8v8h-8zM256 152h8v8h-8zM392 152h8v8h-8zM56 160h8v8h-8zM256 160h8v8h-8zM384 160h8v8h-8zM64 168h8v8h-8zM104 168h8v8h-8zM128 168h8v8h-8zM528 168h8v8h-8zM48 176h8v8h-8zM88 184h8v8h-8zM288 184h8v8h-8zM544 184h8v8h-8zM104 192h8v8h-8zM280 192h8v8h-8zM504 192h8v8h-8zM88 200h8v8h-8zM144 200h16v8h-16zM144 208h16v8h-16zM312 208h8v8h-8zM352 208h8v8h-8zM488 208h8v8h-8zM72 216h8v8h-8zM144 216h8v8h-8zM264 216h8v8h-8zM416 216h8v8h-8zM56 224h16v8h-16zM120 224h8v8h-8zM144 224h8v8h-8zM264 224h8v8h-8zM424 224h8v8h-8zM112 232h8v8h-8zM144 232h8v8h-8zM264 232h8v8h-8zM296 232h8v8h-8zM336 232h8v8h-8zM96 240h8v8h-8zM128 240h8v8h-8zM264 240h24v8h-24zM264 248h16v8h-16zM104 256h8v8h-8zM72 264h8v8h-8zM96 264h8v8h-8zM312 264h8v8h-8zM96 272h8v5h-8zM296 272h8v5h-8zM512 272h8v5h-8z"/><path fill="#e02000" d="M96 0h8v8h-8zM64 24h8v8h-8zM144 32h8v8h-8zM176 40h8v8h-8zM128 48h8v8h-8zM376 48h8v8h-8zM112 56h8v8h-8zM296 56h8v8h-8zM360 64h8v8h-8zM168 88h8v8h-8zM344 96h8v8h-8zM80 112h8v8h-8zM136 112h8v8h-8zM256 112h8v8h-8zM136 120h8v8h-8zM120 136h8v8h-8zM168 136h8v8h-8zM72 160h8v8h-8zM48 168h8v8h-8zM128 176h8v8h-8zM288 176h8v8h-8zM344 176h8v8h-8zM144 192h8v8h-8zM96 200h8v8h-8zM312 216h8v8h-8zM40 232h8v8h-8zM136 240h8v8h-8zM288 240h8v8h-8zM320 248h8v8h-8zM376 248h8v8h-8zM392 248h8v8h-8zM392 256h8v8h-8z"/><path fill="#f03000" d="M104 0h8v8h-8zM320 0h8v8h-8zM152 8h8v8h-8zM64 16h8v8h-8zM88 24h8v8h-8zM80 48h8v8h-8zM280 56h8v8h-8zM280 80h8v8h-8zM480 80h8v8h-8zM448 88h8v8h-8zM264 96h8v8h-8zM336 112h8v8h-8zM176 128h8v8h-8zM160 144h8v8h-8zM88 160h8v8h-8zM368 160h8v8h-8zM32 184h8v8h-8zM152 184h8v8h-8zM336 184h8v8h-8zM256 208h8v8h-8zM320 208h8v8h-8zM336 224h8v8h-8zM328 232h8v8h-8zM88 240h8v8h-8zM408 240h8v8h-8zM160 248h8v8h-8zM376 256h8v8h-8zM368 272h8v5h-8z"/><path fill="#b07040" d="M112 0h8v8h-8zM136 32h8v8h-8zM384 40h8v8h-8z"/><path fill="#a00000" d="M120 0h8v8h-8zM192 0h16v8h-16zM296 0h16v8h-16zM424 0h8v8h-8zM136 8h8v8h-8zM168 8h8v8h-8zM192 8h16v8h-16zM296 8h16v8h-16zM112 16h8v8h-8zM128 16h8v8h-8zM184 16h8v8h-8zM288 16h16v8h-16zM384 16h8v8h-8zM408 16h8v8h-8zM176 24h8v8h-8zM328 24h8v8h-8zM104 32h8v8h-8zM120 32h8v8h-8zM176 32h8v8h-8zM96 40h8v8h-8zM144 40h8v8h-8zM168 40h8v8h-8zM360 40h8v8h-8zM544 40h8v8h-8zM96 48h16v8h-16zM160 48h8v8h-8zM528 48h8v8h-8zM88 56h16v8h-16zM136 56h8v8h-8zM376 56h8v8h-8zM496 56h8v8h-8zM88 64h8v8h-8zM128 64h8v8h-8zM80 72h16v8h-16zM144 72h8v8h-8zM488 72h8v8h-8zM504 72h8v8h-8zM72 80h16v8h-16zM136 80h8v8h-8zM360 80h8v8h-8zM72 88h8v8h-8zM112 88h8v8h-8zM288 88h8v8h-8zM328 88h8v8h-8zM440 88h8v8h-8zM104 96h8v8h-8zM168 96h8v8h-8zM280 96h8v8h-8zM320 96h8v8h-8zM352 96h8v8h-8zM424 96h8v8h-8zM440 96h8v8h-8zM160 104h16v8h-16zM272 104h16v8h-16zM312 104h8v8h-8zM440 104h8v8h-8zM456 104h8v8h-8zM96 112h8v8h-8zM160 112h16v8h-16zM272 112h8v8h-8zM344 112h8v8h-8zM432 112h8v8h-8zM448 112h8v8h-8zM88 120h8v8h-8zM144 120h24v8h-24zM264 120h16v8h-16zM296 120h8v8h-8zM88 128h16v8h-16zM144 128h24v8h-24zM264 128h32v8h-32zM408 128h8v8h-8zM80 136h16v8h-16zM136 136h24v8h-24zM264 136h32v8h-32zM384 136h8v8h-8zM408 136h8v8h-8zM72 144h16v8h-16zM128 144h24v8h-24zM264 144h24v8h-24zM328 144h8v8h-8zM72 152h8v8h-8zM120 152h32v8h-32zM264 152h24v8h-24zM400 152h8v8h-8zM64 160h8v8h-8zM112 160h24v8h-24zM264 160h8v8h-8zM312 160h8v8h-8zM544 160h8v8h-8zM56 168h8v8h-8zM112 168h16v8h-16zM344 168h8v8h-8zM552 168h1v8h-1zM96 176h24v8h-24zM296 176h8v8h-8zM336 176h8v8h-8zM496 176h8v8h-8zM552 176h1v8h-1zM96 184h16v8h-16zM328 184h8v8h-8zM368 184h8v8h-8zM504 184h8v8h-8zM528 184h8v8h-8zM88 192h16v8h-16zM480 192h8v8h-8zM536 192h8v8h-8zM80 200h8v8h-8zM280 200h8v8h-8zM504 200h8v8h-8zM72 208h16v8h-16zM272 208h8v8h-8zM440 208h8v8h-8zM464 208h8v8h-8zM64 216h8v8h-8zM128 216h16v8h-16zM272 216h8v8h-8zM304 216h8v8h-8zM408 216h8v8h-8zM440 216h8v8h-8zM464 216h8v8h-8zM128 224h16v8h-16zM272 224h16v8h-16zM296 224h8v8h-8zM344 224h8v8h-8zM120 232h24v8h-24zM272 232h24v8h-24zM400 232h8v8h-8zM104 240h24v8h-24zM400 240h8v8h-8zM96 248h32v8h-32zM328 248h8v8h-8zM368 248h8v8h-8zM400 248h8v8h-8zM80 256h24v8h-24zM320 256h8v8h-8zM352 256h8v8h-8zM400 256h8v8h-8zM80 264h16v8h-16zM512 264h8v8h-8zM72 272h24v5h-24zM344 272h8v5h-8zM528 272h8v5h-8z"/><path fill="#900000" d="M128 0h16v8h-16zM176 0h16v8h-16zM344 0h8v8h-8zM392 0h8v8h-8zM120 8h16v8h-16zM176 8h16v8h-16zM424 8h8v8h-8zM120 16h8v8h-8zM168 16h16v8h-16zM336 16h8v8h-8zM376 16h8v8h-8zM416 16h8v8h-8zM536 16h8v8h-8zM112 24h16v8h-16zM160 24h16v8h-16zM408 24h8v8h-8zM528 24h8v8h-8zM544 24h8v8h-8zM112 32h8v8h-8zM160 32h16v8h-16zM328 32h8v8h-8zM368 32h8v8h-8zM552 32h1v8h-1zM104 40h8v8h-8zM152 40h16v8h-16zM320 40h8v8h-8zM392 40h8v8h-8zM512 40h16v8h-16zM552 40h1v8h-1zM144 48h16v8h-16zM320 48h8v8h-8zM496 48h8v8h-8zM520 48h8v8h-8zM544 48h8v8h-8zM144 56h16v8h-16zM312 56h8v8h-8zM384 56h8v8h-8zM480 56h8v8h-8zM136 64h16v8h-16zM304 64h16v8h-16zM376 64h8v8h-8zM488 64h16v8h-16zM128 72h16v8h-16zM304 72h8v8h-8zM336 72h8v8h-8zM464 72h8v8h-8zM512 72h8v8h-8zM120 80h16v8h-16zM296 80h16v8h-16zM328 80h8v8h-8zM456 80h16v8h-16zM488 80h8v8h-8zM120 88h16v8h-16zM296 88h16v8h-16zM360 88h8v8h-8zM464 88h8v8h-8zM112 96h16v8h-16zM288 96h32v8h-32zM104 104h16v8h-16zM288 104h24v8h-24zM432 104h8v8h-8zM104 112h16v8h-16zM280 112h32v8h-32zM440 112h8v8h-8zM96 120h8v8h-8zM280 120h16v8h-16zM344 120h8v8h-8zM408 120h8v8h-8zM432 120h8v8h-8zM344 128h8v8h-8zM384 128h8v8h-8zM432 128h8v8h-8zM336 136h8v8h-8zM368 136h8v8h-8zM360 144h8v8h-8zM408 144h8v8h-8zM320 152h8v8h-8zM360 152h8v8h-8zM344 160h8v8h-8zM528 160h8v8h-8zM312 168h8v8h-8zM384 168h8v8h-8zM304 176h8v8h-8zM376 176h8v8h-8zM488 176h8v8h-8zM520 176h8v8h-8zM296 184h8v8h-8zM480 184h8v8h-8zM552 184h1v8h-1zM288 192h16v8h-16zM320 192h8v8h-8zM368 192h8v8h-8zM512 192h8v8h-8zM544 192h8v8h-8zM288 200h32v8h-32zM360 200h8v8h-8zM440 200h8v8h-8zM464 200h8v8h-8zM480 200h8v8h-8zM280 208h32v8h-32zM360 208h8v8h-8zM480 208h8v8h-8zM504 208h8v8h-8zM280 216h24v8h-24zM352 216h8v8h-8zM424 216h16v8h-16zM288 224h8v8h-8zM352 224h8v8h-8zM400 224h8v8h-8zM432 224h16v8h-16zM464 224h8v8h-8zM344 232h8v8h-8zM384 232h16v8h-16zM432 232h8v8h-8zM448 232h16v8h-16zM336 240h8v8h-8zM368 240h8v8h-8zM432 240h8v8h-8zM424 248h8v8h-8zM520 256h8v8h-8zM320 264h8v8h-8zM344 264h8v8h-8zM400 264h8v8h-8zM528 264h8v8h-8zM304 272h8v5h-8zM392 272h8v5h-8z"/><path fill="#d02000" d="M144 0h8v8h-8zM336 0h8v8h-8zM400 0h8v8h-8zM152 24h8v8h-8zM88 48h8v8h-8zM360 48h8v8h-8zM120 72h8v8h-8zM144 112h8v8h-8zM112 152h8v8h-8zM360 256h8v8h-8z"/><path fill="#c0b040" d="M160 0h8v8h-8z"/><path fill="#d00000" d="M216 0h8v8h-8zM72 16h8v8h-8zM88 16h8v8h-8zM104 16h8v8h-8zM272 16h8v8h-8zM208 24h8v8h-8zM272 24h8v8h-8zM296 24h8v8h-8zM64 32h8v8h-8zM184 32h8v8h-8zM312 40h8v8h-8zM56 48h16v8h-16zM264 48h8v8h-8zM280 48h8v8h-8zM536 48h8v8h-8zM56 56h8v8h-8zM80 56h8v8h-8zM264 56h8v8h-8zM512 56h8v8h-8zM48 64h8v8h-8zM192 64h8v8h-8zM48 72h8v8h-8zM96 72h8v8h-8zM112 72h8v8h-8zM184 72h16v8h-16zM360 72h8v8h-8zM280 88h8v8h-8zM136 96h8v8h-8zM184 104h8v8h-8zM264 104h8v8h-8zM184 112h8v8h-8zM40 128h8v8h-8zM104 128h8v8h-8zM248 128h8v8h-8zM40 136h8v8h-8zM248 136h8v8h-8zM120 144h8v8h-8zM248 144h8v8h-8zM248 152h8v8h-8zM536 160h8v8h-8zM248 168h8v8h-8zM264 168h8v8h-8zM544 168h8v8h-8zM40 176h8v8h-8zM88 176h8v8h-8zM160 176h8v8h-8zM176 176h8v8h-8zM248 176h8v8h-8zM544 176h8v8h-8zM48 184h8v8h-8zM160 184h8v8h-8zM176 184h8v8h-8zM32 192h16v8h-16zM152 192h8v8h-8zM168 200h8v8h-8zM320 200h8v8h-8zM352 200h8v8h-8zM456 200h8v8h-8zM160 216h8v8h-8zM256 216h8v8h-8zM304 224h8v8h-8zM248 232h8v8h-8zM424 232h8v8h-8zM40 240h8v8h-8zM248 240h8v8h-8zM88 248h8v8h-8zM248 248h8v8h-8zM128 256h8v8h-8zM248 256h8v8h-8zM312 256h8v8h-8zM520 264h8v8h-8zM144 272h16v5h-16zM384 272h8v5h-8z"/><path fill="#ff2000" d="M232 0h8v8h-8zM264 0h8v8h-8zM0 16h8v8h-8zM16 16h8v8h-8zM32 16h8v8h-8zM224 16h8v8h-8zM256 24h8v8h-8zM8 32h8v8h-8zM8 40h8v8h-8zM40 40h8v8h-8zM216 40h8v8h-8zM296 40h8v8h-8zM0 48h8v8h-8zM32 48h8v8h-8zM248 48h8v8h-8zM296 48h8v8h-8zM16 56h8v8h-8zM248 56h8v8h-8zM32 64h8v8h-8zM208 64h8v8h-8zM8 72h8v8h-8zM32 72h8v8h-8zM0 80h8v8h-8zM240 80h8v8h-8zM200 88h8v8h-8zM240 88h8v8h-8zM344 88h8v8h-8zM200 96h8v8h-8zM8 104h8v8h-8zM8 112h8v8h-8zM0 120h8v8h-8zM16 120h8v8h-8zM192 120h8v8h-8zM8 128h8v8h-8zM32 128h8v8h-8zM0 136h8v8h-8zM176 152h8v8h-8zM24 160h8v8h-8zM152 160h8v8h-8zM8 168h8v8h-8zM192 176h8v8h-8zM136 184h8v8h-8zM32 200h8v8h-8zM48 200h8v8h-8zM112 208h8v8h-8zM8 216h8v8h-8zM64 240h8v8h-8zM232 240h8v8h-8zM16 264h8v8h-8zM224 264h8v8h-8zM16 272h8v5h-8zM176 272h8v5h-8zM224 272h8v5h-8z"/><path fill="#ff4000" d="M240 0h24v8h-24zM240 8h8v8h-8zM232 16h8v8h-8zM248 16h8v8h-8zM48 24h8v8h-8zM192 24h8v8h-8zM232 24h8v8h-8zM248 24h8v8h-8zM224 32h8v8h-8zM248 32h8v8h-8zM536 32h8v8h-8zM224 40h8v8h-8zM0 56h8v8h-8zM184 56h8v8h-8zM216 56h8v8h-8zM240 56h8v8h-8zM24 64h8v8h-8zM264 72h8v8h-8zM208 80h8v8h-8zM208 88h8v8h-8zM232 88h8v8h-8zM248 88h8v8h-8zM40 96h8v8h-8zM232 96h8v8h-8zM32 104h8v8h-8zM232 104h8v8h-8zM200 120h8v8h-8zM192 128h16v8h-16zM8 136h8v8h-8zM24 136h8v8h-8zM232 136h8v8h-8zM8 144h8v8h-8zM176 144h8v8h-8zM200 144h8v8h-8zM8 152h8v8h-8zM200 152h8v8h-8zM200 160h8v8h-8zM536 168h8v8h-8zM0 184h8v8h-8zM16 184h8v8h-8zM192 184h8v8h-8zM232 192h16v8h-16zM8 208h8v8h-8zM72 240h8v8h-8zM176 240h8v8h-8zM16 248h8v8h-8zM48 248h8v8h-8zM184 256h8v8h-8zM8 264h8v8h-8zM24 264h8v8h-8zM256 272h8v5h-8z"/><path fill="#c01000" d="M312 0h8v8h-8zM392 8h8v8h-8zM376 24h8v8h-8zM320 32h8v8h-8zM368 72h8v8h-8zM72 96h8v8h-8zM128 96h8v8h-8zM392 120h8v8h-8zM304 168h8v8h-8zM120 176h8v8h-8zM80 192h8v8h-8zM360 192h8v8h-8z"/><path fill="#a0c060" d="M328 0h8v8h-8z"/><path fill="#d0a030" d="M416 0h8v8h-8zM56 184h8v8h-8z"/><path fill="#f04000" d="M56 8h8v8h-8zM72 8h8v8h-8zM416 8h8v8h-8zM288 40h8v8h-8zM56 64h8v8h-8zM480 72h8v8h-8zM48 104h8v8h-8zM320 104h8v8h-8zM304 128h8v8h-8zM40 144h8v8h-8zM88 152h8v8h-8zM288 152h8v8h-8zM360 160h8v8h-8zM264 200h8v8h-8zM496 200h8v8h-8zM456 208h8v8h-8zM448 216h8v8h-8zM408 232h8v8h-8zM304 264h8v8h-8zM352 272h8v5h-8z"/><path fill="#ff3000" d="M64 8h8v8h-8zM232 8h8v8h-8zM256 8h8v8h-8zM256 16h8v8h-8zM224 24h8v8h-8zM248 40h8v8h-8zM536 40h8v8h-8zM48 48h8v8h-8zM184 48h8v8h-8zM216 48h8v8h-8zM32 56h8v8h-8zM40 64h8v8h-8zM240 64h8v8h-8zM208 72h8v8h-8zM240 72h8v8h-8zM8 80h8v8h-8zM8 88h8v8h-8zM24 88h8v8h-8zM56 88h8v8h-8zM8 96h8v8h-8zM240 96h8v8h-8zM40 104h8v8h-8zM200 104h8v8h-8zM0 112h8v8h-8zM200 112h8v8h-8zM24 128h8v8h-8zM240 128h8v8h-8zM192 144h8v8h-8zM232 144h8v8h-8zM184 152h8v8h-8zM232 152h8v8h-8zM8 160h8v8h-8zM232 160h8v8h-8zM40 168h8v8h-8zM160 168h8v8h-8zM232 168h8v8h-8zM136 176h8v8h-8zM232 176h8v8h-8zM232 184h8v8h-8zM48 208h8v8h-8zM176 208h8v8h-8zM0 224h8v8h-8zM88 224h8v8h-8zM240 224h8v8h-8zM0 232h8v8h-8zM184 240h8v8h-8zM152 248h8v8h-8zM168 248h8v8h-8zM184 248h8v8h-8zM152 256h8v8h-8zM224 256h8v8h-8zM48 264h8v8h-8zM280 264h8v8h-8zM8 272h8v5h-8z"/><path fill="#e04000" d="M112 8h8v8h-8zM152 16h8v8h-8zM360 56h8v8h-8zM64 144h8v8h-8zM280 160h8v8h-8z"/><path fill="#c07030" d="M144 8h8v8h-8z"/><path fill="#f06000" d="M160 8h8v8h-8zM48 88h8v8h-8zM312 120h8v8h-8zM424 120h8v8h-8zM128 128h8v8h-8zM96 168h8v8h-8zM168 168h8v8h-8zM144 240h8v8h-8z"/><path fill="#ff5000" d="M248 8h8v8h-8zM240 16h8v8h-8zM56 24h8v8h-8zM240 24h8v8h-8zM232 32h16v8h-16zM232 40h16v8h-16zM40 48h8v8h-8zM192 48h8v8h-8zM224 48h24v8h-24zM224 56h16v8h-16zM168 64h8v8h-8zM216 64h24v8h-24zM216 72h8v8h-8zM232 72h8v8h-8zM216 80h8v8h-8zM232 80h8v8h-8zM0 88h8v8h-8zM208 96h8v8h-8zM224 96h8v8h-8zM0 104h8v8h-8zM208 104h8v8h-8zM224 104h8v8h-8zM208 112h8v8h-8zM224 112h16v8h-16zM176 136h8v8h-8zM192 136h16v8h-16zM320 136h8v8h-8zM0 144h8v8h-8zM16 144h8v8h-8zM224 152h8v8h-8zM224 160h8v8h-8zM288 160h8v8h-8zM200 168h8v8h-8zM0 176h8v8h-8zM24 184h8v8h-8zM64 184h8v8h-8zM0 192h8v8h-8zM0 200h8v8h-8zM16 200h8v8h-8zM184 200h8v8h-8zM0 208h8v8h-8zM120 208h8v8h-8zM8 224h8v8h-8zM32 224h8v8h-8zM96 224h8v8h-8zM88 232h8v8h-8zM184 232h8v8h-8zM232 232h8v8h-8zM8 248h8v8h-8zM64 248h8v8h-8zM8 256h8v8h-8zM32 256h8v8h-8zM64 256h8v8h-8zM40 264h8v8h-8zM184 264h8v8h-8zM216 272h8v5h-8zM280 272h8v5h-8z"/><path fill="#e05010" d="M312 8h8v8h-8zM136 24h8v8h-8zM384 24h8v8h-8zM128 40h8v8h-8zM392 128h8v8h-8z"/><path fill="#d08030" d="M320 8h8v8h-8zM144 24h8v8h-8zM320 112h8v8h-8zM40 152h16v8h-16zM72 176h8v8h-8zM352 176h8v8h-8z"/><path fill="#f07010" d="M328 8h8v8h-8zM312 24h8v8h-8zM72 64h8v8h-8zM104 64h8v8h-8zM144 160h8v8h-8zM160 160h8v8h-8zM272 168h8v8h-8zM120 184h8v8h-8zM96 208h8v8h-8zM344 208h8v8h-8z"/><path fill="#d09030" d="M400 8h8v8h-8zM120 48h8v8h-8z"/><path fill="#f06010" d="M56 16h8v8h-8zM168 80h8v8h-8zM160 88h8v8h-8zM328 128h8v8h-8zM304 160h8v8h-8zM72 184h8v8h-8zM64 200h8v8h-8z"/><path fill="#c0a040" d="M96 16h8v8h-8zM72 56h8v8h-8zM144 88h8v8h-8zM336 88h8v8h-8zM120 200h8v8h-8zM136 256h8v8h-8z"/><path fill="#a08060" d="M144 16h8v8h-8z"/><path fill="#d07030" d="M312 16h8v8h-8zM56 128h8v8h-8z"/><path fill="#b07050" d="M320 16h8v8h-8zM384 32h8v8h-8zM56 136h8v8h-8z"/><path fill="#d03000" d="M392 16h8v8h-8z"/><path fill="#a09060" d="M400 16h8v8h-8zM120 56h8v8h-8zM160 72h8v8h-8zM80 176h8v8h-8zM360 176h8v8h-8z"/><path fill="#e03000" d="M80 24h8v8h-8zM120 40h8v8h-8zM368 40h8v8h-8zM288 72h8v8h-8zM88 80h8v8h-8zM144 80h8v8h-8zM336 80h8v8h-8zM152 96h8v8h-8zM56 120h8v8h-8zM400 144h8v8h-8zM368 152h8v8h-8zM80 216h8v8h-8zM112 256h8v8h-8z"/><path fill="#e08010" d="M96 24h8v8h-8zM128 104h8v8h-8z"/><path fill="#d01000" d="M128 24h8v8h-8zM392 24h8v8h-8zM112 48h8v8h-8zM296 64h8v8h-8zM344 72h8v8h-8zM472 72h8v8h-8zM472 80h8v8h-8zM96 96h8v8h-8zM328 96h8v8h-8zM152 104h8v8h-8zM344 104h8v8h-8zM48 112h8v8h-8zM88 112h8v8h-8zM416 112h8v8h-8zM80 120h8v8h-8zM400 120h8v8h-8zM416 120h8v8h-8zM424 128h8v8h-8zM96 136h8v8h-8zM296 136h8v8h-8zM88 144h8v8h-8zM368 144h8v8h-8zM312 152h8v8h-8zM352 160h8v8h-8zM56 176h8v8h-8zM104 232h8v8h-8zM120 256h8v8h-8zM272 256h8v8h-8z"/><path fill="#f09010" d="M304 24h8v8h-8zM72 48h8v8h-8zM32 176h8v8h-8zM40 200h8v8h-8zM104 200h8v8h-8zM328 200h8v8h-8zM384 264h8v8h-8z"/><path fill="#d06020" d="M320 24h8v8h-8zM80 40h8v8h-8zM64 136h8v8h-8z"/><path fill="#d08020" d="M400 24h8v8h-8zM120 64h8v8h-8zM392 136h8v8h-8z"/><path fill="#ff8000" d="M48 32h8v8h-8zM48 40h8v8h-8zM24 72h8v8h-8zM264 88h8v8h-8zM32 112h8v8h-8zM240 120h8v8h-8zM224 128h8v8h-8zM224 176h8v8h-8zM192 192h8v8h-8zM216 200h8v8h-8zM216 208h8v8h-8zM248 208h8v8h-8zM192 224h16v8h-16zM8 240h8v8h-8zM312 248h8v8h-8z"/><path fill="#d05020" d="M80 32h16v8h-16z"/><path fill="#e01000" d="M96 32h8v8h-8zM296 32h8v8h-8zM272 56h8v8h-8zM112 64h8v8h-8zM480 64h8v8h-8zM72 72h8v8h-8zM64 80h8v8h-8zM96 80h8v8h-8zM96 88h8v8h-8zM80 104h8v8h-8zM136 104h8v8h-8zM40 120h8v8h-8zM48 136h8v8h-8zM104 136h8v8h-8zM288 144h8v8h-8zM320 144h8v8h-8zM56 152h8v8h-8zM72 192h8v8h-8zM488 192h8v8h-8zM488 200h8v8h-8zM64 208h8v8h-8zM408 224h8v8h-8zM448 224h16v8h-16zM48 240h8v8h-8zM416 248h8v8h-8zM104 264h8v8h-8zM352 264h8v8h-8zM376 264h8v8h-8z"/><path fill="#d04010" d="M128 32h8v8h-8zM376 32h8v8h-8zM376 40h8v8h-8zM136 48h8v8h-8z"/><path fill="#f0b010" d="M192 32h8v8h-8zM192 40h8v8h-8zM264 184h8v8h-8zM336 200h8v8h-8zM240 216h8v8h-8z"/><path fill="#90d070" d="M304 32h8v8h-8zM272 176h8v8h-8zM56 200h8v8h-8zM168 240h8v8h-8z"/><path fill="#f02000" d="M312 32h8v8h-8zM72 40h8v8h-8zM504 48h8v8h-8zM184 64h8v8h-8zM504 64h8v8h-8zM64 72h8v8h-8zM176 72h8v8h-8zM48 80h8v8h-8zM344 80h8v8h-8zM40 88h8v8h-8zM152 88h8v8h-8zM424 104h8v8h-8zM448 104h8v8h-8zM40 112h8v8h-8zM64 120h8v8h-8zM136 168h8v8h-8zM248 184h8v8h-8zM496 184h8v8h-8zM352 192h8v8h-8zM448 208h8v8h-8zM48 216h8v8h-8zM112 216h8v8h-8zM72 224h8v8h-8zM160 224h8v8h-8zM64 264h8v8h-8zM56 272h8v5h-8zM104 272h8v5h-8z"/><path fill="#c02000" d="M400 32h8v8h-8z"/><path fill="#d05010" d="M88 40h8v8h-8z"/><path fill="#b06040" d="M136 40h8v8h-8z"/><path fill="#a0d060" d="M304 40h8v8h-8zM312 240h8v8h-8z"/><path fill="#e0a020" d="M176 48h8v8h-8zM328 104h8v8h-8zM96 144h8v8h-8zM376 144h8v8h-8zM256 184h8v8h-8zM160 232h8v8h-8zM144 264h8v8h-8z"/><path fill="#c0c040" d="M288 48h8v8h-8z"/><path fill="#f08010" d="M304 48h8v8h-8zM352 64h8v8h-8zM56 80h8v8h-8zM304 136h8v8h-8zM352 184h8v8h-8zM336 216h8v8h-8z"/><path fill="#c09030" d="M368 48h8v8h-8z"/><path fill="#d04000" d="M384 48h8v8h-8z"/><path fill="#ff6000" d="M40 56h8v8h-8zM224 72h8v8h-8zM280 72h8v8h-8zM224 80h8v8h-8zM256 80h8v8h-8zM216 88h16v8h-16zM0 96h8v8h-8zM216 96h8v8h-8zM448 96h8v8h-8zM216 104h8v8h-8zM240 104h8v8h-8zM216 112h8v8h-8zM248 112h8v8h-8zM184 120h8v8h-8zM208 120h24v8h-24zM208 128h16v8h-16zM208 136h24v8h-24zM208 144h24v8h-24zM208 152h16v8h-16zM208 160h16v8h-16zM0 168h8v8h-8zM152 168h8v8h-8zM288 168h8v8h-8zM536 176h8v8h-8zM224 192h8v8h-8zM496 192h8v8h-8zM224 200h16v8h-16zM32 208h8v8h-8zM0 216h8v8h-8zM24 224h8v8h-8zM416 224h8v8h-8zM72 232h8v8h-8zM192 232h8v8h-8zM192 240h8v8h-8zM304 240h8v8h-8zM384 240h8v8h-8zM224 248h8v8h-8zM48 256h8v8h-8zM216 264h8v8h-8zM0 272h8v5h-8z"/><path fill="#a0d050" d="M176 56h8v8h-8z"/><path fill="#80d080" d="M288 56h8v8h-8z"/><path fill="#908060" d="M368 56h8v8h-8z"/><path fill="#f05000" d="M504 56h8v8h-8zM104 88h8v8h-8zM112 120h8v8h-8zM72 128h8v8h-8zM392 144h8v8h-8zM80 160h8v8h-8zM376 168h8v8h-8zM128 208h8v8h-8zM456 216h8v8h-8zM136 264h8v8h-8z"/><path fill="#e07010" d="M160 64h8v8h-8zM72 104h8v8h-8zM280 184h8v8h-8zM336 192h8v8h-8z"/><path fill="#f0a010" d="M176 64h8v8h-8zM24 232h8v8h-8zM56 240h8v8h-8z"/><path fill="#e0c020" d="M272 64h8v8h-8zM248 192h8v8h-8zM232 224h8v8h-8zM416 232h8v8h-8zM304 248h8v8h-8z"/><path fill="#ff7000" d="M280 64h8v8h-8zM24 80h8v8h-8zM32 120h8v8h-8zM16 128h8v8h-8zM0 152h8v8h-8zM0 160h8v8h-8zM32 168h8v8h-8zM224 168h8v8h-8zM200 176h8v8h-8zM224 184h8v8h-8zM16 192h8v8h-8zM320 216h8v8h-8zM24 240h8v8h-8zM192 248h8v8h-8zM288 264h8v8h-8zM24 272h8v5h-8zM184 272h8v5h-8z"/><path fill="#d0c030" d="M288 64h8v8h-8zM344 184h8v8h-8zM264 192h8v8h-8zM40 224h8v8h-8zM104 224h8v8h-8z"/><path fill="#c08030" d="M368 64h8v8h-8z"/><path fill="#e08020" d="M56 72h8v8h-8zM64 192h8v8h-8z"/><path fill="#b0b050" d="M104 72h8v8h-8zM104 80h8v8h-8zM352 80h8v8h-8zM128 120h8v8h-8zM128 200h8v8h-8z"/><path fill="#e07020" d="M168 72h8v8h-8zM48 96h8v8h-8zM56 144h8v8h-8zM160 152h8v8h-8zM40 160h8v8h-8zM72 168h8v8h-8zM80 184h8v8h-8zM360 184h8v8h-8z"/><path fill="#70e090" d="M272 72h8v8h-8zM256 200h8v8h-8zM328 208h8v8h-8z"/><path fill="#a0b060" d="M352 72h8v8h-8zM96 160h8v8h-8zM168 160h8v8h-8z"/><path fill="#b0a050" d="M160 80h8v8h-8zM72 120h8v8h-8zM80 168h8v8h-8zM360 168h8v8h-8zM120 192h8v8h-8z"/><path fill="#ffa000" d="M264 80h8v8h-8zM320 128h8v8h-8zM16 136h8v8h-8zM304 144h8v8h-8zM216 168h8v8h-8zM216 192h8v8h-8zM224 208h8v8h-8zM200 216h8v8h-8zM208 224h8v8h-8z"/><path fill="#90f070" d="M272 80h8v8h-8zM312 128h8v8h-8zM0 256h8v8h-8zM384 256h8v8h-8z"/><path fill="#c0a030" d="M88 88h8v8h-8z"/><path fill="#d0f030" d="M256 88h8v8h-8zM192 216h8v8h-8zM224 216h8v8h-8z"/><path fill="#f09000" d="M272 88h8v8h-8zM416 240h8v8h-8z"/><path fill="#e06010" d="M352 88h8v8h-8zM64 128h8v8h-8zM400 128h8v8h-8zM48 160h8v8h-8zM352 168h8v8h-8z"/><path fill="#a0a060" d="M88 96h8v8h-8zM72 112h8v8h-8zM328 120h8v8h-8z"/><path fill="#90a070" d="M144 96h8v8h-8z"/><path fill="#ff9000" d="M248 96h8v8h-8zM240 112h8v8h-8zM232 120h8v8h-8zM232 128h8v8h-8zM24 168h8v8h-8zM208 168h8v8h-8zM8 184h8v8h-8zM240 200h8v8h-8zM208 208h8v8h-8zM176 216h8v8h-8zM208 216h8v8h-8zM8 232h8v8h-8zM200 232h8v8h-8zM224 240h8v8h-8zM192 256h8v8h-8zM216 256h8v8h-8zM208 272h8v5h-8z"/><path fill="#a0ff60" d="M256 96h8v8h-8zM192 208h8v8h-8z"/><path fill="#90b070" d="M336 96h8v8h-8zM328 112h8v8h-8zM128 192h8v8h-8z"/><path fill="#d0a020" d="M144 104h8v8h-8zM320 120h8v8h-8zM120 272h8v5h-8z"/><path fill="#ffb000" d="M248 104h8v8h-8zM200 184h8v8h-8zM216 184h8v8h-8zM208 200h8v8h-8zM216 216h8v8h-8zM0 240h8v8h-8zM200 240h8v8h-8zM192 264h8v8h-8zM208 264h8v8h-8zM192 272h8v5h-8z"/><path fill="#f0c010" d="M256 104h8v8h-8zM184 144h8v8h-8zM24 176h8v8h-8zM336 208h8v8h-8zM16 224h8v8h-8zM176 232h8v8h-8zM0 264h8v8h-8z"/><path fill="#d0b030" d="M336 104h8v8h-8zM112 144h8v8h-8zM128 184h8v8h-8zM312 224h8v8h-8zM160 240h8v8h-8zM288 248h8v8h-8zM304 256h8v8h-8zM264 264h8v8h-8z"/><path fill="#90a060" d="M128 112h8v8h-8z"/><path fill="#f07000" d="M424 112h8v8h-8zM296 168h8v8h-8zM152 176h8v8h-8zM56 208h8v8h-8zM80 248h8v8h-8zM120 264h8v8h-8z"/><path fill="#b0c050" d="M112 128h8v8h-8zM376 160h8v8h-8zM320 232h8v8h-8z"/><path fill="#d0e030" d="M184 128h8v8h-8z"/><path fill="#80c080" d="M112 136h8v8h-8zM376 152h8v8h-8z"/><path fill="#90e070" d="M184 136h8v8h-8z"/><path fill="#40d0c0" d="M312 136h8v8h-8zM32 272h8v5h-8z"/><path fill="#b01000" d="M376 136h8v8h-8z"/><path fill="#d07020" d="M400 136h8v8h-8z"/><path fill="#f05010" d="M48 144h8v8h-8z"/><path fill="#e0b020" d="M168 144h8v8h-8z"/><path fill="#d0d030" d="M296 144h8v8h-8zM312 144h8v8h-8zM272 184h8v8h-8zM56 264h8v8h-8zM360 264h8v8h-8z"/><path fill="#80b080" d="M96 152h8v8h-8zM168 152h8v8h-8z"/><path fill="#30b0d0" d="M296 152h8v8h-8z"/><path fill="#60e0a0" d="M296 160h8v8h-8zM56 248h8v8h-8zM360 272h8v5h-8z"/><path fill="#80e080" d="M144 168h8v8h-8zM40 208h8v8h-8zM80 240h8v8h-8z"/><path fill="#70f090" d="M280 168h8v8h-8z"/><path fill="#50c0b0" d="M144 176h8v8h-8z"/><path fill="#ffc000" d="M208 176h16v8h-16zM216 248h8v8h-8zM200 272h8v5h-8z"/><path fill="#60b0a0" d="M280 176h8v8h-8z"/><path fill="#c0e040" d="M144 184h8v8h-8z"/><path fill="#fff000" d="M208 184h8v8h-8zM200 192h8v8h-8zM200 200h8v8h-8zM208 240h16v8h-16z"/><path fill="#b0f050" d="M8 192h8v8h-8zM16 240h8v8h-8zM0 248h8v8h-8zM32 264h8v8h-8z"/><path fill="#70b090" d="M56 192h8v8h-8zM312 232h8v8h-8z"/><path fill="#ffe000" d="M208 192h8v8h-8zM200 208h8v8h-8zM216 224h8v8h-8zM208 232h8v8h-8zM200 256h16v8h-16z"/><path fill="#10a0f0" d="M256 192h8v8h-8zM168 232h8v8h-8z"/><path fill="#70c090" d="M344 192h8v8h-8z"/><path fill="#e0e010" d="M8 200h8v8h-8z"/><path fill="#f0d010" d="M192 200h8v8h-8zM184 224h8v8h-8z"/><path fill="#c0f040" d="M248 200h8v8h-8zM328 224h8v8h-8z"/><path fill="#90c070" d="M344 200h8v8h-8z"/><path fill="#70d090" d="M104 208h8v8h-8z"/><path fill="#e0d020" d="M184 208h8v8h-8zM320 224h8v8h-8z"/><path fill="#a0f060" d="M232 208h8v8h-8z"/><path fill="#e0e020" d="M240 208h8v8h-8z"/><path fill="#f08000" d="M32 216h8v8h-8zM40 272h8v5h-8z"/><path fill="#60c0a0" d="M40 216h8v8h-8zM144 248h8v8h-8zM112 272h8v5h-8zM264 272h8v5h-8z"/><path fill="#50b0a0" d="M104 216h8v8h-8z"/><path fill="#90ff70" d="M184 216h8v8h-8z"/><path fill="#40ffc0" d="M232 216h8v8h-8z"/><path fill="#40c0c0" d="M328 216h8v8h-8zM56 256h8v8h-8z"/><path fill="#b0e050" d="M80 224h8v8h-8zM384 248h8v8h-8z"/><path fill="#a0e060" d="M168 224h8v8h-8z"/><path fill="#e0f020" d="M176 224h8v8h-8z"/><path fill="#e0ff20" d="M224 224h8v8h-8z"/><path fill="#50ffb0" d="M16 232h8v8h-8z"/><path fill="#30c0c0" d="M80 232h8v8h-8z"/><path fill="#f0ff10" d="M216 232h8v8h-8z"/><path fill="#ffd000" d="M224 232h8v8h-8zM200 248h8v8h-8zM200 264h8v8h-8z"/><path fill="#e09010" d="M296 240h8v8h-8z"/><path fill="#d09020" d="M136 248h8v8h-8z"/><path fill="#ffff00" d="M208 248h8v8h-8z"/><path fill="#20b0e0" d="M296 248h8v8h-8z"/><path fill="#40a0b0" d="M144 256h8v8h-8z"/><path fill="#b0d050" d="M288 256h8v8h-8z"/><path fill="#0070f0" d="M296 256h8v8h-8z"/><path fill="#c0d040" d="M112 264h8v8h-8zM272 264h8v8h-8zM296 264h8v8h-8z"/><path fill="#40b0c0" d="M272 272h8v5h-8z"/></svg>
<canvas id="pa" width="553" height="277" style="top:36px"></canvas>
<canvas id="pb" width="553" height="277" style="top:414px"></canvas>
<div class="cb" style="top:36px"></div>
<div class="cb" style="top:414px"></div>
<svg id="ov" width="685" height="756">
<g fill="none" stroke="#000" stroke-width="2.5" stroke-linecap="round" stroke-dasharray="2.2 4.85">
<path d="M70.6,134.2 C71.9,132.9 75.6,129.4 78.2,126.6 C80.8,123.8 83.8,120.3 86.4,117.2 C89.0,114.1 91.5,111.2 94.0,107.9 C96.5,104.6 99.1,100.9 101.5,97.4 C103.9,93.9 106.3,90.6 108.5,86.9 C110.7,83.2 111.7,80.4 114.4,75.2 C117.2,70.0 121.3,62.3 125.0,55.8 C128.7,49.3 134.6,39.3 136.5,36.0"/>
<path d="M64.3,195.6 C66.9,192.2 74.8,181.8 80.0,175.0 C85.2,168.2 90.8,160.5 95.2,154.7 C99.6,148.9 103.0,144.3 106.2,140.0 C109.4,135.7 111.5,133.1 114.4,128.9 C117.3,124.7 120.8,119.2 123.7,114.9 C126.6,110.6 129.6,106.5 131.9,103.2 C134.2,99.9 135.8,97.7 137.7,95.0 C139.5,92.3 140.8,90.1 143.0,86.9 C145.2,83.7 147.5,80.8 150.8,75.6 C154.1,70.4 158.6,62.4 162.9,55.8 C167.2,49.2 174.2,39.3 176.4,36.0"/>
<path d="M73.2,232.7 C76.7,229.6 87.9,220.5 94.1,214.1 C100.3,207.7 105.2,200.9 110.4,194.3 C115.6,187.7 120.3,181.1 125.3,174.5 C130.3,167.9 135.4,161.3 140.3,154.7 C145.2,148.1 150.1,141.5 155.0,134.9 C159.9,128.3 164.9,121.7 169.7,115.1 C174.4,108.5 178.8,102.0 183.5,95.4 C188.2,88.8 193.4,82.2 198.0,75.6 C202.6,69.0 206.8,62.4 211.2,55.8 C215.6,49.2 222.3,39.3 224.5,36.0"/>
<path d="M63.0,295.0 C66.4,291.4 76.2,280.4 83.4,273.6 C90.6,266.8 99.1,260.8 105.9,254.2 C112.7,247.6 118.2,240.6 124.3,233.9 C130.4,227.2 136.8,220.7 142.7,214.1 C148.6,207.5 154.2,200.9 160.0,194.3 C165.8,187.7 171.8,181.1 177.5,174.5 C183.2,167.9 189.1,161.1 194.4,154.7 C199.7,148.3 205.7,141.2 209.5,136.1 C213.3,131.0 214.7,128.0 217.4,123.9 C220.1,119.8 222.9,116.4 225.6,111.6 C228.3,106.8 231.4,101.1 233.8,95.3 C236.2,89.5 237.9,83.4 239.9,76.9 C241.9,70.4 243.9,63.2 246.0,56.4 C248.1,49.6 251.2,39.4 252.2,36.0"/>
<path d="M98.0,310.5 C102.0,307.4 114.5,298.3 122.3,292.0 C130.1,285.7 137.2,279.1 144.7,272.6 C152.2,266.1 159.7,259.8 167.2,253.1 C174.7,246.4 182.9,239.2 189.7,232.7 C196.5,226.2 202.5,220.5 208.2,214.1 C213.8,207.7 220.0,200.0 223.6,194.3 C227.2,188.6 227.7,187.3 230.0,180.0 C232.3,172.7 235.1,159.2 237.7,150.4 C240.2,141.7 242.8,133.9 245.3,127.5 C247.8,121.1 249.7,117.3 252.9,112.2 C256.1,107.1 260.0,103.3 264.3,97.0 C268.6,90.7 273.7,81.2 278.6,74.1 C283.5,66.9 288.7,60.5 293.9,54.1 C299.1,47.8 307.0,39.0 309.6,36.0"/>
<path d="M178.6,307.0 C182.7,304.7 196.0,298.0 203.0,293.0 C210.0,288.0 216.6,282.4 220.5,277.0 C224.4,271.6 225.1,267.6 226.6,260.8 C228.1,254.0 228.2,243.1 229.7,236.3 C231.2,229.5 233.1,225.1 235.8,220.0 C238.5,214.9 242.2,210.5 246.0,205.7 C249.8,200.9 253.9,196.4 258.3,191.3 C262.7,186.2 267.3,181.1 272.6,175.0 C277.9,168.9 284.3,161.4 290.2,154.7 C296.1,148.0 301.8,141.5 308.0,134.9 C314.2,128.3 321.5,121.7 327.7,115.1 C333.9,108.5 339.5,102.0 345.2,95.4 C350.9,88.8 356.6,82.2 362.0,75.6 C367.4,69.0 372.4,62.4 377.6,55.8 C382.8,49.2 390.4,39.3 393.0,36.0"/>
<path d="M235.8,291.5 C239.4,288.5 249.5,279.7 257.3,273.4 C265.1,267.1 274.2,260.3 282.6,253.7 C291.0,247.1 299.4,240.5 307.5,233.9 C315.6,227.3 323.7,220.7 331.1,214.1 C338.5,207.5 345.4,200.9 351.8,194.3 C358.2,187.7 364.0,181.1 369.5,174.5 C375.0,167.9 379.7,161.3 384.7,154.7 C389.7,148.1 394.6,141.5 399.6,134.9 C404.6,128.3 409.5,121.7 414.5,115.1 C419.5,108.5 424.3,102.0 429.4,95.4 C434.4,88.8 439.6,82.2 444.8,75.6 C450.1,69.0 455.2,62.4 460.9,55.8 C466.6,49.2 476.0,39.3 479.0,36.0"/>
<path d="M320.9,313.0 C325.7,309.7 341.0,299.8 349.5,293.2 C358.0,286.6 365.2,280.0 371.7,273.4 C378.2,266.8 383.1,260.3 388.5,253.7 C393.9,247.1 398.6,240.5 403.9,233.9 C409.1,227.3 414.2,220.7 420.0,214.1 C425.8,207.5 431.8,200.9 438.5,194.3 C445.2,187.7 452.9,181.1 460.5,174.5 C468.1,167.9 475.8,161.3 484.2,154.7 C492.6,148.1 502.3,141.5 511.2,134.9 C520.1,128.3 528.5,121.7 537.4,115.1 C546.3,108.5 555.5,102.0 564.8,95.4 C574.1,88.8 584.5,82.5 593.0,75.6 C601.5,68.7 612.2,57.6 616.0,54.0"/>
<path d="M424.6,313.0 C428.3,309.7 437.8,299.8 446.6,293.2 C455.5,286.6 466.6,280.0 477.7,273.4 C488.8,266.8 500.9,260.3 513.2,253.7 C525.5,247.1 537.4,240.6 551.5,233.9 C565.6,227.2 590.2,216.7 597.9,213.3"/>
<path d="M64.9,517.3 C67.8,514.9 76.8,508.5 82.3,502.9 C87.8,497.3 93.6,489.6 97.8,483.5 C102.0,477.4 103.9,472.6 107.4,466.2 C110.9,459.8 115.5,451.0 119.0,444.9 C122.5,438.8 125.5,434.6 128.7,429.5 C131.9,424.4 136.7,416.6 138.3,414.0"/>
<path d="M65.0,570.6 C66.6,568.8 70.1,565.2 74.6,560.0 C79.1,554.8 87.2,545.9 92.0,539.6 C96.8,533.3 100.1,527.4 103.6,522.2 C107.1,517.0 109.7,513.8 113.2,508.6 C116.7,503.5 120.6,497.4 124.8,491.3 C129.0,485.2 134.0,478.1 138.3,472.0 C142.7,465.9 146.7,460.7 150.9,454.6 C155.1,448.5 159.2,442.0 163.4,435.2 C167.6,428.4 173.9,417.5 176.0,414.0"/>
<path d="M77.3,613.7 C80.4,610.1 90.1,599.0 95.7,592.1 C101.3,585.2 105.9,578.9 111.0,572.3 C116.1,565.7 121.5,559.1 126.4,552.5 C131.3,545.9 135.8,539.3 140.7,532.7 C145.6,526.1 151.1,519.5 156.0,512.9 C160.9,506.3 165.5,499.7 170.3,493.1 C175.1,486.5 180.1,480.0 185.0,473.4 C189.9,466.8 195.0,460.2 199.8,453.6 C204.6,447.0 209.0,440.4 213.6,433.8 C218.2,427.2 225.0,417.3 227.3,414.0"/>
<path d="M63.0,670.9 C66.8,667.6 78.3,657.9 85.5,651.4 C92.7,644.9 99.3,638.3 105.9,631.7 C112.5,625.1 119.0,618.5 125.3,611.9 C131.6,605.3 137.7,598.7 143.7,592.1 C149.7,585.5 155.5,578.9 161.5,572.3 C167.5,565.7 173.7,559.1 179.5,552.5 C185.3,545.9 190.9,539.3 196.5,532.7 C202.1,526.1 207.2,519.5 212.8,512.9 C218.4,506.3 224.6,499.7 229.9,493.1 C235.2,486.5 239.8,480.0 244.8,473.4 C249.8,466.8 255.6,459.8 259.8,453.6 C264.0,447.4 266.2,442.6 270.0,436.0 C273.8,429.4 280.4,417.7 282.5,414.0"/>
<path d="M95.7,691.0 C100.3,687.7 114.8,677.8 123.3,671.2 C131.8,664.6 139.1,658.0 146.8,651.4 C154.5,644.8 161.9,638.3 169.3,631.7 C176.8,625.1 184.4,618.5 191.5,611.9 C198.6,605.3 205.2,598.7 212.0,592.1 C218.8,585.5 226.0,578.8 232.5,572.3 C239.0,565.8 245.2,560.0 250.9,553.1 C256.6,546.2 264.1,534.7 266.7,531.0"/>
<path d="M179.5,689.0 C184.4,685.6 199.6,675.1 208.9,668.7 C218.2,662.3 229.2,654.8 235.2,650.4 C241.1,646.0 241.3,645.9 244.6,642.6 C247.9,639.4 251.6,634.8 254.8,630.9 C258.0,627.0 260.9,623.1 263.6,619.2 C266.3,615.3 268.0,612.4 270.9,607.5 C273.8,602.6 278.4,596.2 281.0,590.0 C283.6,583.8 284.7,575.7 286.5,570.0 C288.3,564.3 289.6,560.5 291.8,555.7 C294.0,550.9 296.2,546.2 299.5,541.4 C302.8,536.6 307.4,531.5 311.4,527.1 C315.4,522.7 318.9,520.0 323.3,515.2 C327.7,510.5 333.6,503.4 337.6,498.6 C341.6,493.9 343.9,490.7 347.1,486.7 C350.3,482.7 352.8,480.3 356.7,474.8 C360.6,469.3 366.3,460.4 370.8,453.6 C375.3,446.8 379.2,440.4 383.5,433.8 C387.8,427.2 394.2,417.3 396.4,414.0"/>
<path d="M294.2,636.8 C296.4,634.8 302.8,628.6 307.4,624.5 C312.0,620.4 315.6,617.3 321.7,611.9 C327.8,606.5 337.4,598.7 344.2,592.1 C351.0,585.5 356.7,578.9 362.4,572.3 C368.1,565.7 373.4,559.1 378.3,552.5 C383.2,545.9 387.2,539.3 391.6,532.7 C396.0,526.1 400.1,519.5 404.5,512.9 C408.9,506.3 413.1,499.7 417.8,493.1 C422.5,486.5 427.7,480.0 432.7,473.4 C437.7,466.8 442.6,460.2 448.0,453.6 C453.4,447.0 459.1,440.4 464.9,433.8 C470.7,427.2 480.0,417.3 483.0,414.0"/>
<path d="M336.0,691.0 C340.5,687.7 355.3,677.8 363.0,671.2 C370.7,664.6 376.7,658.0 382.3,651.4 C387.9,644.8 391.9,638.3 396.4,631.7 C400.9,625.1 404.9,618.5 409.5,611.9 C414.1,605.3 418.5,598.7 423.8,592.1 C429.1,585.5 435.0,578.9 441.5,572.3 C448.0,565.7 455.0,559.1 462.9,552.5 C470.8,545.9 480.2,539.3 489.1,532.7 C498.0,526.1 506.9,519.5 516.1,512.9 C525.3,506.3 534.8,499.7 544.3,493.1 C553.8,486.5 563.0,480.2 572.9,473.4 C582.8,466.6 598.7,455.8 603.9,452.3"/>
<path d="M426.6,691.0 C430.6,687.7 441.7,677.8 450.8,671.2 C459.9,664.6 469.6,658.0 481.0,651.4 C492.4,644.8 506.0,638.3 519.3,631.7 C532.6,625.1 546.7,618.6 560.8,611.9 C574.9,605.2 596.7,594.7 603.9,591.3"/>
</g>
<g font-family="Liberation Serif" font-weight="bold" fill="#fff">
<text transform="translate(78.2,94.4) scale(0.9,1)" font-size="19.5">E</text><text x="90.1" y="94.4" font-size="12.5">1</text>
<text transform="translate(77.6,146.8) scale(0.9,1)" font-size="19.5">E</text><text x="89.5" y="146.8" font-size="12.5">2</text>
<text transform="translate(79.4,199.6) scale(0.9,1)" font-size="19.5">E</text><text x="91.3" y="199.6" font-size="12.5">3</text>
<text transform="translate(79.4,252.0) scale(0.9,1)" font-size="19.5">E</text><text x="91.3" y="252.0" font-size="12.5">4</text>
<text transform="translate(95.2,291.7) scale(0.9,1)" font-size="19.5">E</text><text x="107.1" y="291.7" font-size="12.5">5</text>
<text transform="translate(196.9,270.9) scale(0.9,1)" font-size="19.5">E</text><text x="208.8" y="270.9" font-size="12.5">6</text>
<text transform="translate(274.8,286.1) scale(0.9,1)" font-size="19.5">E</text><text x="286.7" y="286.1" font-size="12.5">7</text>
<text transform="translate(342.3,276.3) scale(0.9,1)" font-size="19.5">E</text><text x="354.2" y="276.3" font-size="12.5">8</text>
<text transform="translate(421.7,285.9) scale(0.9,1)" font-size="19.5">E</text><text x="433.6" y="285.9" font-size="12.5">9</text>
<text transform="translate(74.0,472.6) scale(0.9,1)" font-size="19.5">E</text><text x="85.9" y="472.6" font-size="12.5">10</text>
<text transform="translate(74.0,532.7) scale(0.9,1)" font-size="19.5">E</text><text x="85.9" y="532.7" font-size="12.5">11</text>
<text transform="translate(81.1,575.7) scale(0.9,1)" font-size="19.5">E</text><text x="93.0" y="575.7" font-size="12.5">12</text>
<text transform="translate(72.7,633.8) scale(0.9,1)" font-size="19.5">E</text><text x="84.6" y="633.8" font-size="12.5">13</text>
<text transform="translate(90.7,671.5) scale(0.9,1)" font-size="19.5">E</text><text x="102.6" y="671.5" font-size="12.5">14</text>
<text transform="translate(172.8,671.7) scale(0.9,1)" font-size="19.5">E</text><text x="184.7" y="671.7" font-size="12.5">15</text>
<text transform="translate(338.9,548.5) scale(0.9,1)" font-size="19.5">E</text><text x="350.8" y="548.5" font-size="12.5">16</text>
<text transform="translate(346.6,643.1) scale(0.9,1)" font-size="19.5">E</text><text x="358.5" y="643.1" font-size="12.5">17</text>
<text transform="translate(443.5,645.4) scale(0.9,1)" font-size="19.5">E</text><text x="455.4" y="645.4" font-size="12.5">18</text>
</g>
<g font-family="Liberation Serif" font-weight="bold" fill="#222">
<text x="63.0" y="341.0" font-size="24" text-anchor="middle" >0.7</text>
<text x="124.4" y="341.0" font-size="24" text-anchor="middle" >0.9</text>
<text x="185.9" y="341.0" font-size="24" text-anchor="middle" >1.1</text>
<text x="247.3" y="341.0" font-size="24" text-anchor="middle" >1.3</text>
<text x="308.8" y="341.0" font-size="24" text-anchor="middle" >1.5</text>
<text x="370.2" y="341.0" font-size="24" text-anchor="middle" >1.7</text>
<text x="431.7" y="341.0" font-size="24" text-anchor="middle" >1.9</text>
<text x="493.1" y="341.0" font-size="24" text-anchor="middle" >2.1</text>
<text x="554.6" y="341.0" font-size="24" text-anchor="middle" >2.3</text>
<text x="616.0" y="341.0" font-size="24" text-anchor="middle" >2.5</text>
<text x="44.3" y="322.2" font-size="24" text-anchor="end" >1</text>
<text x="56.5" y="282.6" font-size="24" text-anchor="end" >1.2</text>
<text x="56.5" y="243.1" font-size="24" text-anchor="end" >1.4</text>
<text x="56.5" y="203.5" font-size="24" text-anchor="end" >1.6</text>
<text x="56.5" y="163.9" font-size="24" text-anchor="end" >1.8</text>
<text x="45.7" y="124.3" font-size="24" text-anchor="end" >2</text>
<text x="56.5" y="84.8" font-size="24" text-anchor="end" >2.2</text>
<text x="56.5" y="45.2" font-size="24" text-anchor="end" >2.4</text>
<text x="656.5" y="293.6" font-size="22" text-anchor="start" >0.1</text>
<text x="656.5" y="265.9" font-size="22" text-anchor="start" >0.2</text>
<text x="656.5" y="238.2" font-size="22" text-anchor="start" >0.3</text>
<text x="656.5" y="210.5" font-size="22" text-anchor="start" >0.4</text>
<text x="656.5" y="182.8" font-size="22" text-anchor="start" >0.5</text>
<text x="656.5" y="155.1" font-size="22" text-anchor="start" >0.6</text>
<text x="656.5" y="127.4" font-size="22" text-anchor="start" >0.7</text>
<text x="656.5" y="99.7" font-size="22" text-anchor="start" >0.8</text>
<text x="656.5" y="72.0" font-size="22" text-anchor="start" >0.9</text>
<text x="339.5" y="370.8" font-size="27" text-anchor="middle" >Wavelength(<tspan font-style="italic" font-weight="normal">&#956;</tspan>m)</text>
<text transform="translate(21,174.5) rotate(-90)" font-size="26.5" text-anchor="middle">Refractive index</text>
<text x="63.0" y="719.0" font-size="24" text-anchor="middle" >0.7</text>
<text x="124.4" y="719.0" font-size="24" text-anchor="middle" >0.9</text>
<text x="185.9" y="719.0" font-size="24" text-anchor="middle" >1.1</text>
<text x="247.3" y="719.0" font-size="24" text-anchor="middle" >1.3</text>
<text x="308.8" y="719.0" font-size="24" text-anchor="middle" >1.5</text>
<text x="370.2" y="719.0" font-size="24" text-anchor="middle" >1.7</text>
<text x="431.7" y="719.0" font-size="24" text-anchor="middle" >1.9</text>
<text x="493.1" y="719.0" font-size="24" text-anchor="middle" >2.1</text>
<text x="554.6" y="719.0" font-size="24" text-anchor="middle" >2.3</text>
<text x="616.0" y="719.0" font-size="24" text-anchor="middle" >2.5</text>
<text x="44.3" y="700.2" font-size="24" text-anchor="end" >1</text>
<text x="56.5" y="660.6" font-size="24" text-anchor="end" >1.2</text>
<text x="56.5" y="621.1" font-size="24" text-anchor="end" >1.4</text>
<text x="56.5" y="581.5" font-size="24" text-anchor="end" >1.6</text>
<text x="56.5" y="541.9" font-size="24" text-anchor="end" >1.8</text>
<text x="45.7" y="502.3" font-size="24" text-anchor="end" >2</text>
<text x="56.5" y="462.8" font-size="24" text-anchor="end" >2.2</text>
<text x="56.5" y="423.2" font-size="24" text-anchor="end" >2.4</text>
<text x="656.5" y="671.6" font-size="22" text-anchor="start" >0.1</text>
<text x="656.5" y="643.9" font-size="22" text-anchor="start" >0.2</text>
<text x="656.5" y="616.2" font-size="22" text-anchor="start" >0.3</text>
<text x="656.5" y="588.5" font-size="22" text-anchor="start" >0.4</text>
<text x="656.5" y="560.8" font-size="22" text-anchor="start" >0.5</text>
<text x="656.5" y="533.1" font-size="22" text-anchor="start" >0.6</text>
<text x="656.5" y="505.4" font-size="22" text-anchor="start" >0.7</text>
<text x="656.5" y="477.7" font-size="22" text-anchor="start" >0.8</text>
<text x="656.5" y="450.0" font-size="22" text-anchor="start" >0.9</text>
<text x="339.5" y="748.8" font-size="27" text-anchor="middle" >Wavelength(<tspan font-style="italic" font-weight="normal">&#956;</tspan>m)</text>
<text transform="translate(21,552.5) rotate(-90)" font-size="26.5" text-anchor="middle">Refractive index</text>
<text x="66.1" y="26.4" font-size="36" fill="#000">(a)</text>
<text x="66.2" y="405.5" font-size="36" fill="#000">(b)</text>
</g>
<g stroke="#555" stroke-width="0.9">
<line x1="648.2" x2="651" y1="285.3" y2="285.3"/><line x1="648.2" x2="651" y1="257.6" y2="257.6"/><line x1="648.2" x2="651" y1="229.9" y2="229.9"/><line x1="648.2" x2="651" y1="202.2" y2="202.2"/><line x1="648.2" x2="651" y1="174.5" y2="174.5"/><line x1="648.2" x2="651" y1="146.8" y2="146.8"/><line x1="648.2" x2="651" y1="119.1" y2="119.1"/><line x1="648.2" x2="651" y1="91.4" y2="91.4"/><line x1="648.2" x2="651" y1="63.7" y2="63.7"/><line x1="648.2" x2="651" y1="663.3" y2="663.3"/><line x1="648.2" x2="651" y1="635.6" y2="635.6"/><line x1="648.2" x2="651" y1="607.9" y2="607.9"/><line x1="648.2" x2="651" y1="580.2" y2="580.2"/><line x1="648.2" x2="651" y1="552.5" y2="552.5"/><line x1="648.2" x2="651" y1="524.8" y2="524.8"/><line x1="648.2" x2="651" y1="497.1" y2="497.1"/><line x1="648.2" x2="651" y1="469.4" y2="469.4"/><line x1="648.2" x2="651" y1="441.7" y2="441.7"/>
</g>
</svg>
<script>
var JET=[[0, 0, 143], [0, 0, 159], [0, 0, 175], [0, 0, 191], [0, 0, 207], [0, 0, 223], [0, 0, 239], [0, 0, 255], [0, 16, 255], [0, 32, 255], [0, 48, 255], [0, 64, 255], [0, 80, 255], [0, 96, 255], [0, 112, 255], [0, 128, 255], [0, 143, 255], [0, 159, 255], [0, 175, 255], [0, 191, 255], [0, 207, 255], [0, 223, 255], [0, 239, 255], [0, 255, 255], [16, 255, 239], [32, 255, 223], [48, 255, 207], [64, 255, 191], [80, 255, 175], [96, 255, 159], [112, 255, 143], [128, 255, 128], [143, 255, 112], [159, 255, 96], [175, 255, 80], [191, 255, 64], [207, 255, 48], [223, 255, 32], [239, 255, 16], [255, 255, 0], [255, 239, 0], [255, 223, 0], [255, 207, 0], [255, 191, 0], [255, 175, 0], [255, 159, 0], [255, 143, 0], [255, 128, 0], [255, 112, 0], [255, 96, 0], [255, 80, 0], [255, 64, 0], [255, 48, 0], [255, 32, 0], [255, 16, 0], [255, 0, 0], [239, 0, 0], [223, 0, 0], [207, 0, 0], [191, 0, 0], [175, 0, 0], [159, 0, 0], [143, 0, 0], [128, 0, 0]];
var PD={"a": {"s": [[73.5, 0.0, 0.7, 1.8, 0.92, 1, 0.03], [62.0, 19.79, 0.62, 1.8, 0.92, 1, 0.03], [51.4, 39.57, 0.45, 2.0, 0.92, 1, 0.03], [40.3, 59.36, 0.38, 2.0, 0.92, 1, 0.03], [25.0, 79.14, 0.28, 2.5, 0.92, 1, 0.03], [8.0, 98.93, 0.35, 2.5, 0.92, 1, 0.03], [113.4, 0.0, 0.88, 1.9, 0.92, 1, 0.03], [99.9, 19.79, 0.88, 1.9, 0.92, 1, 0.03], [87.8, 39.57, 0.9, 1.9, 0.92, 1, 0.03], [74.7, 59.36, 0.9, 1.9, 0.92, 1, 0.03], [61.9, 79.14, 0.8, 1.9, 0.92, 1, 0.03], [50.0, 98.93, 0.65, 2.0, 0.92, 1, 0.03], [37.8, 118.71, 0.55, 2.2, 0.92, 1, 0.03], [23.0, 138.5, 0.35, 7, 0.7, 2, 0.03], [7.0, 158.29, 0.35, 3.21, 0.92, 1, 0.03], [161.5, 0.0, 0.85, 2.0, 0.92, 1, 0.03], [148.2, 19.79, 0.9, 2.0, 0.92, 1, 0.03], [135.0, 39.57, 0.9, 2.0, 0.92, 1, 0.03], [120.5, 59.36, 0.9, 2.0, 0.92, 1, 0.03], [106.7, 79.14, 0.9, 2.0, 0.92, 1, 0.03], [92.0, 98.93, 0.9, 2.0, 0.92, 1, 0.03], [77.3, 118.71, 0.9, 2.1, 0.92, 1, 0.03], [62.3, 138.5, 0.9, 2.35, 0.92, 1, 0.03], [47.4, 158.29, 0.85, 2.57, 0.92, 1, 0.03], [32.5, 178.07, 0.45, 7.5, 0.7, 2, 0.03], [8.2, 197.86, 0.55, 7, 0.7, 2, 0.03], [1.0, 257.21, 0.8, 3.45, 0.92, 1, 0.03], [19.4, 237.43, 0.6, 9, 0.7, 2, 0.03], [42.9, 217.64, 0.92, 3.45, 0.92, 1, 0.03], [61.3, 197.86, 0.95, 3.45, 0.92, 1, 0.03], [79.7, 178.07, 0.93, 2.99, 0.92, 1, 0.03], [97.0, 158.29, 0.92, 2.57, 0.92, 1, 0.03], [114.5, 138.5, 0.9, 2.46, 0.92, 1, 0.03], [131.4, 118.71, 0.88, 2.2, 0.92, 1, 0.03], [147.3, 98.93, 0.85, 2.2, 0.92, 1, 0.03], [160.6, 79.14, 0.45, 2.5, 0.92, 1, 0.03], [36.8, 277.0, 0.9, 3.68, 0.92, 1, 0.03], [59.3, 257.21, 0.96, 3.91, 0.92, 1, 0.03], [81.7, 237.43, 0.96, 3.91, 0.92, 1, 0.03], [104.5, 217.64, 0.96, 3.91, 0.92, 1, 0.03], [126.0, 197.86, 0.95, 3.68, 0.92, 1, 0.03], [145.2, 178.07, 0.9, 3.45, 0.92, 1, 0.03], [160.6, 158.29, 0.35, 3.2, 0.92, 1, 0.03], [201.4, 59.36, 0.55, 3.0, 0.92, 1, 0.03], [216.0, 39.57, 0.85, 2.75, 0.92, 1, 0.03], [231.0, 19.79, 0.88, 2.62, 0.92, 1, 0.03], [246.6, 0.0, 0.85, 2.5, 0.92, 1, 0.03], [115.6, 277.0, 0.92, 4.14, 0.92, 1, 0.03], [141.2, 257.21, 0.97, 10, 0.8, 2, 0.03], [191.2, 158.29, 0.45, 3.21, 0.92, 1, 0.03], [209.6, 138.5, 0.85, 3.47, 0.92, 1, 0.03], [227.2, 118.71, 0.88, 3.0, 0.92, 1, 0.03], [245.0, 98.93, 0.88, 2.88, 0.92, 1, 0.03], [264.7, 79.14, 0.9, 2.75, 0.92, 1, 0.03], [282.2, 59.36, 0.9, 2.62, 0.92, 1, 0.03], [299.0, 39.57, 0.9, 2.5, 0.92, 1, 0.03], [314.6, 19.79, 0.9, 2.5, 0.92, 1, 0.03], [330.0, 0.0, 0.85, 2.5, 0.92, 1, 0.03], [175.2, 257.21, 0.28, 8.5, 0.7, 2, 0.03], [194.5, 237.43, 0.98, 5.2, 0.88, 1, 0.03], [219.8, 217.64, 0.96, 4.3, 0.92, 1, 0.03], [244.5, 197.86, 0.93, 3.91, 0.92, 1, 0.03], [268.1, 178.07, 0.92, 3.45, 0.92, 1, 0.03], [288.8, 158.29, 0.92, 3.0, 0.92, 1, 0.03], [306.5, 138.5, 0.92, 2.78, 0.92, 1, 0.03], [321.7, 118.71, 0.92, 2.5, 0.92, 1, 0.03], [336.6, 98.93, 0.92, 2.4, 0.92, 1, 0.03], [351.5, 79.14, 0.92, 2.3, 0.92, 1, 0.03], [366.4, 59.36, 0.92, 2.2, 0.92, 1, 0.03], [381.8, 39.57, 0.9, 2.2, 0.92, 1, 0.03], [397.9, 19.79, 0.88, 2.1, 0.92, 1, 0.03], [416.0, 0.0, 0.75, 2.1, 0.92, 1, 0.03], [257.9, 277.0, 0.6, 4.02, 0.92, 1, 0.03], [286.5, 257.21, 0.92, 3.91, 0.92, 1, 0.03], [308.7, 237.43, 0.92, 3.45, 0.92, 1, 0.03], [325.5, 217.64, 0.92, 3.22, 0.92, 1, 0.03], [340.9, 197.86, 0.92, 2.99, 0.92, 1, 0.03], [357.0, 178.07, 0.9, 2.99, 0.92, 1, 0.03], [375.5, 158.29, 0.85, 2.78, 0.92, 1, 0.03], [397.5, 138.5, 0.65, 3.0, 0.92, 1, 0.03], [421.2, 118.71, 0.43, 3.0, 0.92, 1, 0.03], [448.2, 98.93, 0.361, 3.2, 0.92, 1, 0.03], [474.4, 79.14, 0.327, 3.4, 0.92, 1, 0.03], [501.8, 59.36, 0.31, 3.5, 0.92, 1, 0.03], [530.0, 39.57, 0.292, 3.6, 0.92, 1, 0.03], [559.0, 19.79, 0.258, 3.6, 0.92, 1, 0.03], [361.6, 277.0, 0.85, 3.91, 0.92, 1, 0.03], [383.6, 257.21, 0.8, 3.91, 0.92, 1, 0.03], [414.7, 237.43, 0.55, 4.14, 0.92, 1, 0.03], [450.2, 217.64, 0.361, 4.37, 0.92, 1, 0.03], [488.5, 197.86, 0.327, 4.6, 0.92, 1, 0.03], [530.0, 178.07, 0.31, 4.6, 0.92, 1, 0.03], [518.7, 277.0, 0.2, 4.6, 0.92, 1, 0.03], [9.0, 0.0, 0.105, 3.0, 0.6, 1, 0.03], [26.0, 0.0, 0.07, 3.0, 0.6, 1, 0.03], [44.0, 0.0, 0.105, 3.0, 0.6, 1, 0.03], [1.0, 19.79, 0.126, 3.0, 0.6, 1, 0.03], [20.0, 19.79, 0.105, 3.0, 0.6, 1, 0.03], [35.0, 19.79, 0.105, 3.0, 0.6, 1, 0.03], [13.0, 39.57, 0.105, 3.0, 0.6, 1, 0.03], [28.0, 39.57, 0.07, 3.0, 0.6, 1, 0.03], [4.6, 59.36, 0.14, 3.0, 0.6, 1, 0.03], [21.0, 59.36, 0.084, 3.0, 0.6, 1, 0.03], [13.0, 79.14, 0.084, 3.0, 0.6, 1, 0.03], [31.0, 79.14, 0.105, 3.0, 0.6, 1, 0.03], [25.0, 98.93, 0.084, 3.0, 0.6, 1, 0.03], [7.0, 118.71, 0.126, 3.0, 0.6, 1, 0.03], [21.0, 118.71, 0.084, 3.0, 0.6, 1, 0.03], [9.0, 138.5, 0.11, 2.68, 0.6, 1, 0.03], [27.0, 158.29, 0.09, 2.68, 0.6, 1, 0.03], [3.0, 178.07, 0.15, 3.45, 0.6, 1, 0.03], [3.0, 217.64, 0.15, 3.45, 0.6, 1, 0.03]], "b": [], "n": [[4, [[-33.0, 0.0, 0.11, 95], [-33.0, 64.0, 0.11, 82], [-33.0, 114.0, 0.11, 70], [-33.0, 164.0, 0.12, 60], [-33.0, 214.0, 0.15, 60], [-33.0, 277.0, 0.17, 62]]], [2, [[87.0, 0.0, 0.02, 65], [87.0, 277.0, 0.02, 65]]], [3, [[203.0, 0.0, 0.09, 10], [199.0, 13.0, 0.1, 10], [189.0, 43.0, 0.13, 10], [177.0, 71.0, 0.17, 10], [171.0, 108.0, 0.18, 10], [163.0, 141.0, 0.23, 10], [161.0, 160.0, 0.26, 10], [166.0, 179.0, 0.27, 10], [167.0, 211.0, 0.27, 10], [171.0, 243.0, 0.29, 10], [174.0, 265.0, 0.31, 10], [175.0, 277.0, 0.31, 10]]], [2, [[203.0, 0.0, 0.06, 28], [189.0, 43.0, 0.07, 28], [171.0, 108.0, 0.08, 28], [163.0, 154.0, 0.08, 28], [167.0, 211.0, 0.08, 28], [175.0, 277.0, 0.08, 28]]]]}, "b": {"s": [[74.6, 0.0, 0.6, 1.8, 0.92, 1, 0.03], [63.4, 19.79, 0.5, 1.9, 0.92, 1, 0.03], [52.1, 39.57, 0.42, 2.0, 0.92, 1, 0.03], [40.9, 59.36, 0.35, 2.2, 0.92, 1, 0.03], [27.0, 79.14, 0.25, 2.5, 0.92, 1, 0.03], [7.0, 98.93, 0.3, 2.5, 0.92, 1, 0.03], [113.4, 0.0, 0.82, 1.9, 0.92, 1, 0.03], [100.5, 19.79, 0.78, 1.9, 0.92, 1, 0.03], [87.9, 39.57, 0.76, 1.9, 0.92, 1, 0.03], [75.6, 59.36, 0.7, 1.9, 0.92, 1, 0.03], [62.3, 79.14, 0.58, 2.0, 0.92, 1, 0.03], [49.0, 98.93, 0.55, 2.1, 0.92, 1, 0.03], [37.8, 118.71, 0.42, 2.3, 0.92, 1, 0.03], [22.0, 138.5, 0.3, 7, 0.7, 2, 0.03], [7.0, 158.29, 0.3, 3.21, 0.92, 1, 0.03], [164.3, 0.0, 0.85, 2.0, 0.92, 1, 0.03], [150.6, 19.79, 0.9, 2.0, 0.92, 1, 0.03], [136.8, 39.57, 0.9, 2.0, 0.92, 1, 0.03], [122.0, 59.36, 0.9, 2.0, 0.92, 1, 0.03], [107.3, 79.14, 0.9, 2.0, 0.92, 1, 0.03], [93.0, 98.93, 0.9, 2.0, 0.92, 1, 0.03], [77.7, 118.71, 0.9, 2.1, 0.92, 1, 0.03], [63.4, 138.5, 0.9, 2.35, 0.92, 1, 0.03], [48.0, 158.29, 0.75, 2.57, 0.92, 1, 0.03], [31.5, 178.07, 0.45, 7.5, 0.7, 2, 0.03], [13.0, 197.86, 0.5, 7.5, 0.7, 2, 0.03], [2.0, 257.21, 0.65, 3.45, 0.92, 1, 0.03], [21.0, 237.43, 0.65, 8.5, 0.7, 2, 0.03], [42.9, 217.64, 0.92, 3.45, 0.92, 1, 0.03], [62.3, 197.86, 0.93, 3.45, 0.92, 1, 0.03], [80.7, 178.07, 0.93, 2.99, 0.92, 1, 0.03], [98.5, 158.29, 0.94, 2.68, 0.92, 1, 0.03], [116.5, 138.5, 0.92, 2.57, 0.92, 1, 0.03], [133.5, 118.71, 0.9, 2.3, 0.92, 1, 0.03], [149.8, 98.93, 0.9, 2.3, 0.92, 1, 0.03], [166.9, 79.14, 0.88, 2.88, 0.92, 1, 0.03], [181.8, 59.36, 0.7, 3.0, 0.92, 1, 0.03], [196.8, 39.57, 0.5, 3.12, 0.92, 1, 0.03], [36.8, 277.0, 0.9, 3.68, 0.92, 1, 0.03], [60.3, 257.21, 0.96, 3.91, 0.92, 1, 0.03], [83.8, 237.43, 0.96, 3.91, 0.92, 1, 0.03], [106.3, 217.64, 0.96, 3.91, 0.92, 1, 0.03], [128.5, 197.86, 0.96, 3.79, 0.92, 1, 0.03], [149.0, 178.07, 0.95, 3.68, 0.92, 1, 0.03], [169.5, 158.29, 0.88, 3.21, 0.92, 1, 0.03], [186.5, 138.5, 0.7, 3.21, 0.92, 1, 0.03], [118.0, 277.0, 0.92, 4.14, 0.92, 1, 0.03], [145.9, 257.21, 0.97, 7, 0.75, 2, 0.03], [171.0, 237.43, 0.85, 7.5, 0.75, 2, 0.3], [191.0, 217.64, 0.45, 4.5, 0.7, 1, 0.4], [259.8, 98.93, 0.5, 3.2, 0.92, 1, 0.03], [277.1, 79.14, 0.8, 3.0, 0.92, 1, 0.03], [292.8, 59.36, 0.85, 2.6, 0.92, 1, 0.03], [307.5, 39.57, 0.9, 2.62, 0.92, 1, 0.03], [320.5, 19.79, 0.9, 2.5, 0.92, 1, 0.03], [333.4, 0.0, 0.85, 2.5, 0.92, 1, 0.03], [236.5, 217.64, 0.55, 8, 0.6, 2, 0.35], [259.8, 197.86, 0.85, 9, 0.66, 2, 0.35], [281.5, 178.07, 0.88, 8.5, 0.75, 2, 0.3], [301.0, 158.29, 0.9, 7.5, 0.82, 2, 0.03], [315.4, 138.5, 0.9, 4.5, 0.85, 1, 0.03], [329.0, 118.71, 0.92, 3.5, 0.92, 1, 0.03], [341.5, 98.93, 0.92, 2.4, 0.92, 1, 0.03], [354.8, 79.14, 0.92, 2.3, 0.92, 1, 0.03], [369.7, 59.36, 0.92, 2.2, 0.92, 1, 0.03], [385.0, 39.57, 0.9, 2.2, 0.92, 1, 0.03], [401.9, 19.79, 0.88, 2.1, 0.92, 1, 0.03], [420.0, 0.0, 0.75, 2.1, 0.92, 1, 0.03], [272.5, 277.0, 0.96, 10, 0.75, 2, 0.03], [299.6, 257.21, 0.96, 11, 0.8, 2, 0.03], [319.0, 237.43, 0.92, 4.5, 0.92, 1, 0.03], [333.0, 217.64, 0.92, 4.5, 0.92, 1, 0.03], [346.0, 197.86, 0.92, 3.7, 0.92, 1, 0.03], [360.8, 178.07, 0.92, 3.1, 0.92, 1, 0.03], [378.5, 158.29, 0.88, 2.89, 0.92, 1, 0.03], [399.9, 138.5, 0.68, 3.0, 0.92, 1, 0.03], [426.1, 118.71, 0.447, 3.0, 0.92, 1, 0.03], [453.1, 98.93, 0.378, 3.2, 0.92, 1, 0.03], [481.3, 79.14, 0.344, 3.4, 0.92, 1, 0.03], [509.9, 59.36, 0.327, 3.5, 0.92, 1, 0.03], [539.7, 39.57, 0.31, 3.6, 0.92, 1, 0.03], [363.6, 277.0, 0.85, 3.91, 0.92, 1, 0.03], [387.8, 257.21, 0.75, 3.91, 0.92, 1, 0.03], [418.0, 237.43, 0.55, 4.14, 0.92, 1, 0.03], [456.3, 217.64, 0.378, 4.37, 0.92, 1, 0.03], [497.8, 197.86, 0.344, 4.6, 0.92, 1, 0.03], [540.9, 178.07, 0.327, 4.6, 0.92, 1, 0.03], [522.8, 277.0, 0.2, 4.6, 0.92, 1, 0.03], [9.0, 0.0, 0.105, 3.0, 0.6, 1, 0.03], [26.0, 0.0, 0.07, 3.0, 0.6, 1, 0.03], [44.0, 0.0, 0.105, 3.0, 0.6, 1, 0.03], [1.0, 19.79, 0.126, 3.0, 0.6, 1, 0.03], [20.0, 19.79, 0.105, 3.0, 0.6, 1, 0.03], [35.0, 19.79, 0.105, 3.0, 0.6, 1, 0.03], [13.0, 39.57, 0.105, 3.0, 0.6, 1, 0.03], [28.0, 39.57, 0.07, 3.0, 0.6, 1, 0.03], [4.6, 59.36, 0.14, 3.0, 0.6, 1, 0.03], [21.0, 59.36, 0.084, 3.0, 0.6, 1, 0.03], [13.0, 79.14, 0.084, 3.0, 0.6, 1, 0.03], [31.0, 79.14, 0.105, 3.0, 0.6, 1, 0.03], [25.0, 98.93, 0.084, 3.0, 0.6, 1, 0.03], [7.0, 118.71, 0.126, 3.0, 0.6, 1, 0.03], [21.0, 118.71, 0.084, 3.0, 0.6, 1, 0.03], [9.0, 138.5, 0.11, 2.68, 0.6, 1, 0.03], [27.0, 158.29, 0.09, 2.68, 0.6, 1, 0.03], [3.0, 178.07, 0.15, 3.45, 0.6, 1, 0.03], [3.0, 217.64, 0.15, 3.45, 0.6, 1, 0.03]], "b": [], "n": [[4, [[-33.0, 0.0, 0.11, 95], [-33.0, 64.0, 0.11, 82], [-33.0, 114.0, 0.11, 70], [-33.0, 164.0, 0.12, 60], [-33.0, 214.0, 0.15, 60], [-33.0, 277.0, 0.17, 62]]], [2, [[87.0, 0.0, 0.02, 65], [87.0, 277.0, 0.02, 65]]], [2.5, [[253.0, 0.0, 0.14, 20], [239.0, 39.0, 0.15, 20], [226.0, 77.0, 0.16, 20], [218.0, 116.0, 0.16, 20], [219.0, 151.0, 0.17, 20], [217.0, 186.0, 0.14, 18], [213.0, 216.0, 0.1, 16], [209.0, 246.0, 0.07, 16], [205.0, 277.0, 0.05, 16]]], [2, [[281.0, 178.0, 0, 9], [259.0, 198.0, 0.12, 10], [233.0, 221.0, 0.2, 10], [221.0, 236.0, 0.24, 10], [210.0, 256.0, 0.2, 10], [199.0, 277.0, 0.15, 10]]], [2, [[221.0, 164.0, 0, 8], [218.0, 176.0, 0.12, 8], [208.0, 193.0, 0.18, 8], [200.0, 205.0, 0.2, 8], [192.0, 217.0, 0.2, 8], [182.0, 228.0, 0.16, 8], [173.0, 238.0, 0.08, 8], [167.0, 246.0, 0, 8]]], [2, [[292.0, 54.0, 0, 6], [282.0, 66.0, 0.12, 6], [270.0, 83.0, 0.18, 6], [257.0, 101.0, 0.22, 6], [247.0, 116.0, 0.22, 6], [237.0, 131.0, 0.15, 6], [231.0, 142.0, 0, 6]]], [2, [[221.0, 161.0, 0, 25], [216.0, 196.0, 0.08, 28], [210.0, 236.0, 0.1, 32], [205.0, 277.0, 0.1, 35]]], [2, [[253.0, 0.0, 0.07, 40], [222.0, 136.0, 0.07, 42], [207.0, 277.0, 0.07, 45]]]]}};
var RS=19.7857;
function g(t){var u=Math.abs(t)/1.08;if(u>=1)return 0;return (1-u)*(1+0.3*u);}
var SH=0.03;
function draw(id,P){
 var c=document.getElementById(id),W=c.width,H=c.height,ctx=c.getContext('2d');
 var F=new Float32Array(W*H);for(var i=0;i<W*H;i++)F[i]=1;
 // blobs
 P.b.forEach(function(b){
  var cx=b[0],cy=b[1],sa=b[2],sc=b[3],an=b[4]*Math.PI/180,amp=b[5];
  var ca=Math.cos(an),sn=-Math.sin(an);
  var R=3.2*Math.max(sa,sc);
  var x0=Math.max(0,Math.floor(cx-R)),x1=Math.min(W-1,Math.ceil(cx+R)),y0=Math.max(0,Math.floor(cy-R)),y1=Math.min(H-1,Math.ceil(cy+R));
  for(var y=y0;y<=y1;y++)for(var x=x0;x<=x1;x++){
   var dx=x+0.5-cx,dy=y+0.5-cy;var u=dx*ca+dy*sn,v=-dx*sn+dy*ca;
   var e=Math.exp(-0.5*(u*u/(sa*sa)+v*v/(sc*sc)));F[y*W+x]*=1-amp*e;
  }
 });
 P.n.forEach(function(BB){var pw=BB[0],B=BB[1];
  for(var y=0;y<H;y++){var yy=y+0.5;if(yy<B[0][1]-0.5||yy>B[B.length-1][1]+0.5)continue;
   var k=0;while(k<B.length-2&&yy>B[k+1][1])k++;
   var a=B[k],b=B[k+1],f=(b[1]==a[1])?0:(yy-a[1])/(b[1]-a[1]);f=Math.max(0,Math.min(1,f));
   var xc=a[0]+f*(b[0]-a[0]),am=a[2]+f*(b[2]-a[2]),sg=a[3]+f*(b[3]-a[3]);
   for(var x=0;x<W;x++){var d=Math.abs(x+0.5-xc)/sg;if(d>7)continue;F[y*W+x]*=1-am*Math.exp(-0.5*Math.pow(d,pw));}
  }
 });
 P.s.forEach(function(s){
  var cx=s[0],cy=s[1],A=s[2],gm=s[3],vs=s[4],q=s[5],sh=s[6];
  var Rx=Math.ceil(gm*14+4+Math.abs(sh)*RS*1.2),Ry=Math.ceil(RS*1.15*vs);
  var x0=Math.max(0,Math.floor(cx-Rx)),x1=Math.min(W-1,Math.ceil(cx+Rx)),y0=Math.max(0,Math.floor(cy-Ry)),y1=Math.min(H-1,Math.ceil(cy+Ry));
  for(var y=y0;y<=y1;y++){var dy=y+0.5-cy,gy=g(dy/(RS*vs));if(gy<=0)continue;var cxx=cx-sh*dy;
   for(var x=x0;x<=x1;x++){var d=(x+0.5-cxx)/gm;var L=1/(1+d*d);if(q!=1)L=Math.pow(L,q);else L=0.5*L+0.5*Math.exp(-0.81*Math.abs(d));F[y*W+x]*=1-A*gy*L;}}
 });
 var img=ctx.createImageData(W,H),D=img.data;
 for(var i=0;i<W*H;i++){var k=Math.floor(F[i]*64);if(k>63)k=63;if(k<0)k=0;var cc=JET[k];D[4*i]=cc[0];D[4*i+1]=cc[1];D[4*i+2]=cc[2];D[4*i+3]=255;}
 ctx.putImageData(img,0,0);
}
try{draw('pa',PD.a);draw('pb',PD.b);}catch(e){}
</script>
</body></html>
